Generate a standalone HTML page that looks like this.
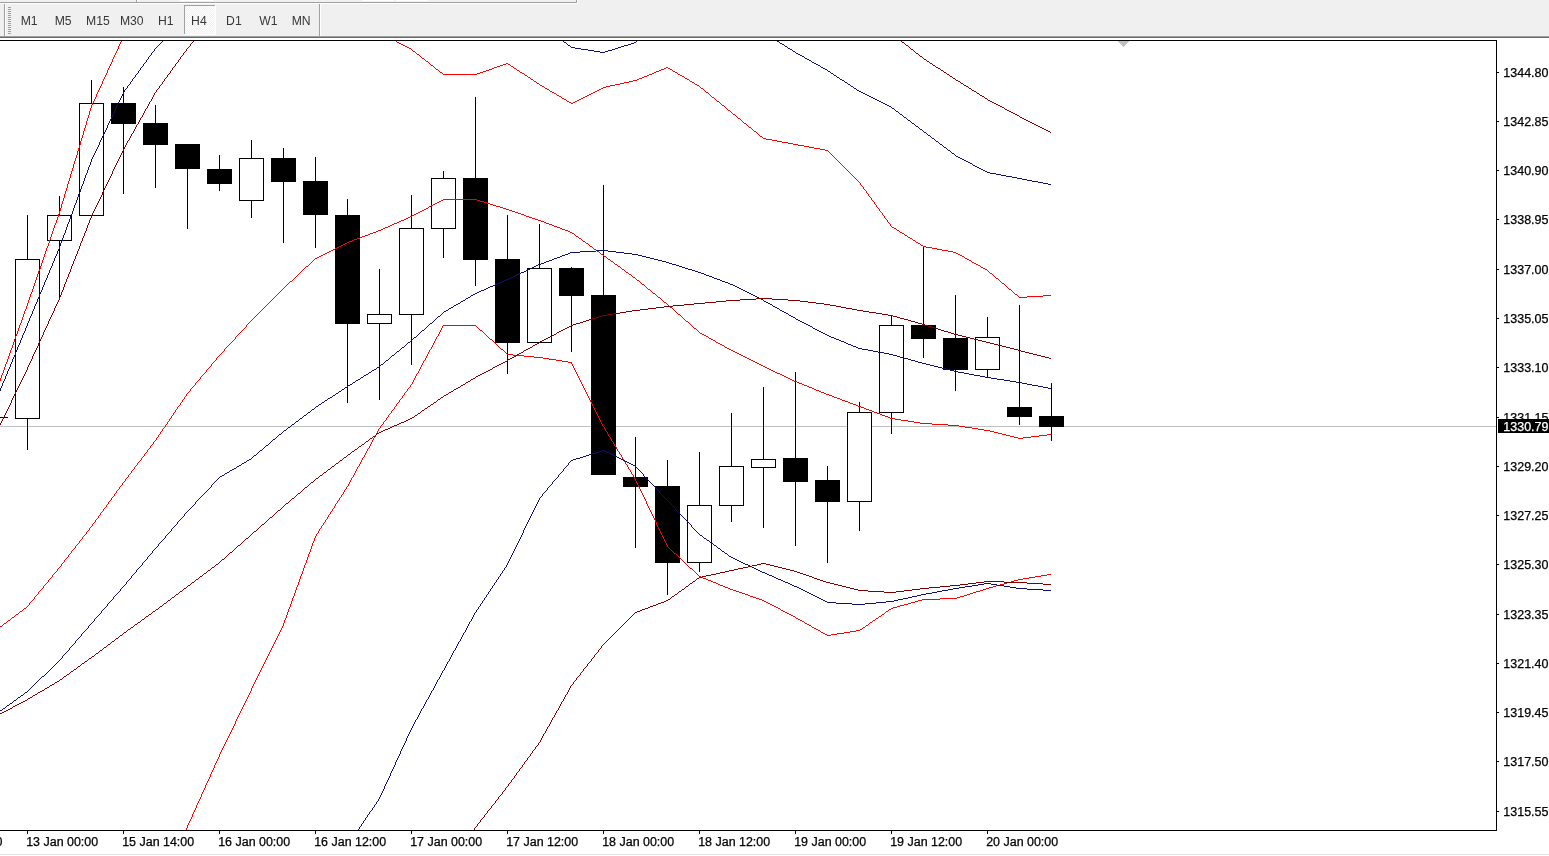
<!DOCTYPE html>
<html><head><meta charset="utf-8"><title>Chart</title>
<style>
html,body{margin:0;padding:0;background:#fff;overflow:hidden}
body{width:1549px;height:856px;position:relative;font-family:"Liberation Sans",sans-serif}
svg{position:absolute;left:0;top:0;display:block}
text{font-family:"Liberation Sans",sans-serif;font-size:12px;stroke-width:0.25px}
.tb{fill:#383838;font-size:12.2px;stroke:none}
</style></head><body>
<svg width="1549" height="856" viewBox="0 0 1549 856">

<rect x="0" y="0" width="1549" height="856" fill="#ffffff"/>
<g shape-rendering="crispEdges">
<rect x="0" y="0" width="1549" height="36" fill="#f0f0f0"/>
<rect x="0" y="2" width="577" height="1" fill="#a0a0a0"/>
<rect x="0" y="3" width="578" height="1" fill="#ffffff"/><rect x="577" y="0" width="1" height="4" fill="#ffffff"/>
<rect x="576" y="0" width="1" height="3" fill="#a0a0a0"/>
<rect x="136" y="0" width="1" height="2" fill="#a0a0a0"/><rect x="137" y="0" width="1" height="2" fill="#ffffff"/>
<rect x="180" y="0" width="33" height="1" fill="#ffffff"/>
<rect x="362" y="0" width="32" height="1" fill="#ffffff"/><rect x="396" y="0" width="32" height="1" fill="#ffffff"/>
<rect x="0" y="36" width="1549" height="1" fill="#a0a0a0"/>
<rect x="0" y="37" width="1549" height="1" fill="#696969"/>
<rect x="0" y="38" width="1549" height="2" fill="#ffffff"/>
<rect x="4" y="4" width="1" height="32" fill="#a0a0a0"/><rect x="5" y="4" width="1" height="32" fill="#ffffff"/>
<rect x="8" y="7" width="3" height="1" fill="#a0a0a0"/>
<rect x="8" y="9" width="3" height="1" fill="#a0a0a0"/>
<rect x="8" y="11" width="3" height="1" fill="#a0a0a0"/>
<rect x="8" y="13" width="3" height="1" fill="#a0a0a0"/>
<rect x="8" y="15" width="3" height="1" fill="#a0a0a0"/>
<rect x="8" y="17" width="3" height="1" fill="#a0a0a0"/>
<rect x="8" y="19" width="3" height="1" fill="#a0a0a0"/>
<rect x="8" y="21" width="3" height="1" fill="#a0a0a0"/>
<rect x="8" y="23" width="3" height="1" fill="#a0a0a0"/>
<rect x="8" y="25" width="3" height="1" fill="#a0a0a0"/>
<rect x="8" y="27" width="3" height="1" fill="#a0a0a0"/>
<rect x="8" y="29" width="3" height="1" fill="#a0a0a0"/>
<rect x="8" y="31" width="3" height="1" fill="#a0a0a0"/>
<rect x="8" y="33" width="3" height="1" fill="#a0a0a0"/>
<rect x="319" y="4" width="1" height="32" fill="#a0a0a0"/><rect x="320" y="4" width="1" height="32" fill="#ffffff"/>
<defs><pattern id="chk" width="2" height="2" patternUnits="userSpaceOnUse"><rect width="2" height="2" fill="#f0f0f0"/><rect width="1" height="1" fill="#fff"/><rect x="1" y="1" width="1" height="1" fill="#fff"/></pattern></defs>
<rect x="185" y="6" width="30" height="28" fill="url(#chk)"/>
<rect x="184" y="5" width="31" height="1" fill="#a0a0a0"/><rect x="184" y="5" width="1" height="29" fill="#a0a0a0"/>
<rect x="215" y="5" width="1" height="30" fill="#ffffff"/><rect x="184" y="34" width="32" height="1" fill="#ffffff"/>
</g>
<text class="tb" x="29.2" y="25.3" text-anchor="middle">M1</text>
<text class="tb" x="63.1" y="25.3" text-anchor="middle">M5</text>
<text class="tb" x="97.9" y="25.3" text-anchor="middle">M15</text>
<text class="tb" x="131.8" y="25.3" text-anchor="middle">M30</text>
<text class="tb" x="165.8" y="25.3" text-anchor="middle">H1</text>
<text class="tb" x="198.9" y="25.3" text-anchor="middle">H4</text>
<text class="tb" x="233.9" y="25.3" text-anchor="middle">D1</text>
<text class="tb" x="268.5" y="25.3" text-anchor="middle">W1</text>
<text class="tb" x="301.2" y="25.3" text-anchor="middle">MN</text>
<g shape-rendering="crispEdges">
<rect x="0" y="426" width="1496" height="1" fill="#c0c0c0"/>
<path fill="#c0c0c0" d="M1118 41h11v1h-11zM1119 42h9v1h-9zM1120 43h7v1h-7zM1121 44h5v1h-5zM1122 45h3v1h-3zM1123 46h1v1h-1z"/>
<clipPath id="cc"><rect x="0" y="41" width="1496" height="789"/></clipPath>
<g clip-path="url(#cc)">
<rect x="0" y="417" width="8" height="1" fill="#000"/>
<rect x="27" y="215" width="1" height="235" fill="#000"/>
<rect x="15.5" y="259.5" width="24" height="159" fill="#fff" stroke="#000" stroke-width="1"/>
<rect x="59" y="196" width="1" height="103" fill="#000"/>
<rect x="47.5" y="215.5" width="24" height="25" fill="#fff" stroke="#000" stroke-width="1"/>
<rect x="91" y="80" width="1" height="136" fill="#000"/>
<rect x="79.5" y="103.5" width="24" height="112" fill="#fff" stroke="#000" stroke-width="1"/>
<rect x="123" y="87" width="1" height="107" fill="#000"/>
<rect x="111" y="103" width="25" height="21" fill="#000"/>
<rect x="155" y="105" width="1" height="83" fill="#000"/>
<rect x="143" y="123" width="25" height="22" fill="#000"/>
<rect x="187" y="144" width="1" height="85" fill="#000"/>
<rect x="175" y="144" width="25" height="25" fill="#000"/>
<rect x="219" y="155" width="1" height="36" fill="#000"/>
<rect x="207" y="169" width="25" height="15" fill="#000"/>
<rect x="251" y="140" width="1" height="78" fill="#000"/>
<rect x="239.5" y="158.5" width="24" height="42" fill="#fff" stroke="#000" stroke-width="1"/>
<rect x="283" y="148" width="1" height="95" fill="#000"/>
<rect x="271" y="158" width="25" height="24" fill="#000"/>
<rect x="315" y="157" width="1" height="91" fill="#000"/>
<rect x="303" y="181" width="25" height="34" fill="#000"/>
<rect x="347" y="199" width="1" height="204" fill="#000"/>
<rect x="335" y="215" width="25" height="109" fill="#000"/>
<rect x="379" y="269" width="1" height="131" fill="#000"/>
<rect x="367.5" y="314.5" width="24" height="9" fill="#fff" stroke="#000" stroke-width="1"/>
<rect x="411" y="195" width="1" height="170" fill="#000"/>
<rect x="399.5" y="228.5" width="24" height="86" fill="#fff" stroke="#000" stroke-width="1"/>
<rect x="443" y="171" width="1" height="87" fill="#000"/>
<rect x="431.5" y="178.5" width="24" height="50" fill="#fff" stroke="#000" stroke-width="1"/>
<rect x="475" y="97" width="1" height="189" fill="#000"/>
<rect x="463" y="178" width="25" height="82" fill="#000"/>
<rect x="507" y="215" width="1" height="159" fill="#000"/>
<rect x="495" y="259" width="25" height="84" fill="#000"/>
<rect x="539" y="224" width="1" height="119" fill="#000"/>
<rect x="527.5" y="268.5" width="24" height="74" fill="#fff" stroke="#000" stroke-width="1"/>
<rect x="571" y="267" width="1" height="85" fill="#000"/>
<rect x="559" y="268" width="25" height="28" fill="#000"/>
<rect x="603" y="185" width="1" height="290" fill="#000"/>
<rect x="591" y="295" width="25" height="180" fill="#000"/>
<rect x="635" y="437" width="1" height="111" fill="#000"/>
<rect x="623" y="477" width="25" height="10" fill="#000"/>
<rect x="667" y="460" width="1" height="135" fill="#000"/>
<rect x="655" y="486" width="25" height="77" fill="#000"/>
<rect x="699" y="452" width="1" height="120" fill="#000"/>
<rect x="687.5" y="505.5" width="24" height="57" fill="#fff" stroke="#000" stroke-width="1"/>
<rect x="731" y="413" width="1" height="109" fill="#000"/>
<rect x="719.5" y="466.5" width="24" height="39" fill="#fff" stroke="#000" stroke-width="1"/>
<rect x="763" y="387" width="1" height="141" fill="#000"/>
<rect x="751.5" y="459.5" width="24" height="8" fill="#fff" stroke="#000" stroke-width="1"/>
<rect x="795" y="372" width="1" height="174" fill="#000"/>
<rect x="783" y="458" width="25" height="24" fill="#000"/>
<rect x="827" y="466" width="1" height="97" fill="#000"/>
<rect x="815" y="480" width="25" height="22" fill="#000"/>
<rect x="859" y="402" width="1" height="129" fill="#000"/>
<rect x="847.5" y="412.5" width="24" height="89" fill="#fff" stroke="#000" stroke-width="1"/>
<rect x="891" y="315" width="1" height="119" fill="#000"/>
<rect x="879.5" y="325.5" width="24" height="87" fill="#fff" stroke="#000" stroke-width="1"/>
<rect x="923" y="246" width="1" height="112" fill="#000"/>
<rect x="911" y="325" width="25" height="14" fill="#000"/>
<rect x="955" y="295" width="1" height="96" fill="#000"/>
<rect x="943" y="338" width="25" height="32" fill="#000"/>
<rect x="987" y="317" width="1" height="60" fill="#000"/>
<rect x="975.5" y="337.5" width="24" height="32" fill="#fff" stroke="#000" stroke-width="1"/>
<rect x="1019" y="305" width="1" height="120" fill="#000"/>
<rect x="1007" y="407" width="25" height="10" fill="#000"/>
<rect x="1051" y="383" width="1" height="58" fill="#000"/>
<rect x="1039" y="416" width="25" height="11" fill="#000"/>
<path fill="#ff0000" d="M0 378v3h1v-3zM1 375v3h1v-3zM2 373v2h1v-2zM3 370v3h1v-3zM4 367v3h1v-3zM5 364v3h1v-3zM6 362v2h1v-2zM7 359v3h1v-3zM8 356v3h1v-3zM9 353v3h1v-3zM10 350v3h1v-3zM11 348v2h1v-2zM12 345v3h1v-3zM13 342v3h1v-3zM14 339v3h1v-3zM15 336v3h1v-3zM16 334v2h1v-2zM17 331v3h1v-3zM18 328v3h1v-3zM19 325v3h1v-3zM20 323v2h1v-2zM21 320v3h1v-3zM22 317v3h1v-3zM23 314v3h1v-3zM24 311v3h1v-3zM25 309v2h1v-2zM26 306v3h1v-3zM27 303v3h1v-3zM28 300v3h1v-3zM29 297v3h1v-3zM30 294v3h1v-3zM31 292v2h1v-2zM32 289v3h1v-3zM33 286v3h1v-3zM34 283v3h1v-3zM35 280v3h1v-3zM36 277v3h1v-3zM37 274v3h1v-3zM38 271v3h1v-3zM39 269v2h1v-2zM40 266v3h1v-3zM41 263v3h1v-3zM42 260v3h1v-3zM43 257v3h1v-3zM44 254v3h1v-3zM45 251v3h1v-3zM46 248v3h1v-3zM47 246v2h1v-2zM48 243v3h1v-3zM49 240v3h1v-3zM50 237v3h1v-3zM51 234v3h1v-3zM52 231v3h1v-3zM53 228v3h1v-3zM54 225v3h1v-3zM55 223v2h1v-2zM56 220v3h1v-3zM57 217v3h1v-3zM58 214v3h1v-3zM59 211v3h1v-3zM60 208v3h1v-3zM61 204v4h1v-4zM62 201v3h1v-3zM63 198v3h1v-3zM64 194v4h1v-4zM65 191v3h1v-3zM66 188v3h1v-3zM67 184v4h1v-4zM68 181v3h1v-3zM69 178v3h1v-3zM70 174v4h1v-4zM71 171v3h1v-3zM72 168v3h1v-3zM73 164v4h1v-4zM74 161v3h1v-3zM75 158v3h1v-3zM76 155v3h1v-3zM77 151v4h1v-4zM78 148v3h1v-3zM79 145v3h1v-3zM80 141v4h1v-4zM81 138v3h1v-3zM82 135v3h1v-3zM83 131v4h1v-4zM84 128v3h1v-3zM85 125v3h1v-3zM86 121v4h1v-4zM87 118v3h1v-3zM88 115v3h1v-3zM89 111v4h1v-4zM90 108v3h1v-3zM91 105v3h1v-3zM92 103v2h1v-2zM93 101v2h1v-2zM94 99v2h1v-2zM95 97v2h1v-2zM96 94v3h1v-3zM97 92v2h1v-2zM98 90v2h1v-2zM99 88v2h1v-2zM100 86v2h1v-2zM101 84v2h1v-2zM102 81v3h1v-3zM103 79v2h1v-2zM104 77v2h1v-2zM105 75v2h1v-2zM106 73v2h1v-2zM107 70v3h1v-3zM108 68v2h1v-2zM109 66v2h1v-2zM110 64v2h1v-2zM111 62v2h1v-2zM112 59v3h1v-3zM113 57v2h1v-2zM114 55v2h1v-2zM115 53v2h1v-2zM116 51v2h1v-2zM117 49v2h1v-2zM118 46v3h1v-3zM119 44v2h1v-2zM120 42v2h1v-2zM121 41h1v1h-1z"/>
<path fill="#ff0000" d="M396 41h1v1h-1zM397 42h2v1h-2zM399 43h2v1h-2zM401 44h2v1h-2zM403 45h2v1h-2zM405 46h2v1h-2zM407 47h2v1h-2zM409 48h2v1h-2zM411 49h1v1h-1zM412 50h1v1h-1zM413 51h2v1h-2zM415 52h1v1h-1zM416 53h1v1h-1zM417 54h2v1h-2zM419 55h1v1h-1zM420 56h1v1h-1zM421 57h1v1h-1zM422 58h2v1h-2zM424 59h1v1h-1zM425 60h1v1h-1zM426 61h2v1h-2zM428 62h1v1h-1zM429 63h1v1h-1zM430 64h1v1h-1zM431 65h2v1h-2zM433 66h1v1h-1zM434 67h1v1h-1zM435 68h1v1h-1zM436 69h2v1h-2zM438 70h1v1h-1zM439 71h1v1h-1zM440 72h2v1h-2zM442 73h1v1h-1zM443 74h34v1h-34zM477 73h3v1h-3zM480 72h3v1h-3zM483 71h3v1h-3zM486 70h3v1h-3zM489 69h3v1h-3zM492 68h2v1h-2zM494 67h3v1h-3zM497 66h3v1h-3zM500 65h3v1h-3zM503 64h3v1h-3zM506 63h2v1h-2zM508 64h2v1h-2zM510 65h1v1h-1zM511 66h2v1h-2zM513 67h1v1h-1zM514 68h2v1h-2zM516 69h1v1h-1zM517 70h2v1h-2zM519 71h1v1h-1zM520 72h2v1h-2zM522 73h2v1h-2zM524 74h1v1h-1zM525 75h2v1h-2zM527 76h1v1h-1zM528 77h2v1h-2zM530 78h1v1h-1zM531 79h2v1h-2zM533 80h1v1h-1zM534 81h2v1h-2zM536 82h1v1h-1zM537 83h2v1h-2zM539 84h1v1h-1zM540 85h2v1h-2zM542 86h2v1h-2zM544 87h1v1h-1zM545 88h2v1h-2zM547 89h2v1h-2zM549 90h1v1h-1zM550 91h2v1h-2zM552 92h2v1h-2zM554 93h2v1h-2zM556 94h1v1h-1zM557 95h2v1h-2zM559 96h2v1h-2zM561 97h1v1h-1zM562 98h2v1h-2zM564 99h2v1h-2zM566 100h1v1h-1zM567 101h2v1h-2zM569 102h2v1h-2zM571 103h2v1h-2zM573 102h2v1h-2zM575 101h2v1h-2zM577 100h2v1h-2zM579 99h2v1h-2zM581 98h2v1h-2zM583 97h2v1h-2zM585 96h2v1h-2zM587 95h2v1h-2zM589 94h2v1h-2zM591 93h2v1h-2zM593 92h2v1h-2zM595 91h2v1h-2zM597 90h2v1h-2zM599 89h2v1h-2zM601 88h2v1h-2zM603 87h3v1h-3zM606 86h4v1h-4zM610 85h5v1h-5zM615 84h5v1h-5zM620 83h4v1h-4zM624 82h5v1h-5zM629 81h4v1h-4zM633 80h4v1h-4zM637 79h2v1h-2zM639 78h3v1h-3zM642 77h2v1h-2zM644 76h3v1h-3zM647 75h2v1h-2zM649 74h3v1h-3zM652 73h2v1h-2zM654 72h2v1h-2zM656 71h3v1h-3zM659 70h2v1h-2zM661 69h3v1h-3zM664 68h2v1h-2zM666 67h2v1h-2zM668 68h2v1h-2zM670 69h2v1h-2zM672 70h1v1h-1zM673 71h2v1h-2zM675 72h2v1h-2zM677 73h1v1h-1zM678 74h2v1h-2zM680 75h2v1h-2zM682 76h2v1h-2zM684 77h1v1h-1zM685 78h2v1h-2zM687 79h2v1h-2zM689 80h1v1h-1zM690 81h2v1h-2zM692 82h2v1h-2zM694 83h1v1h-1zM695 84h2v1h-2zM697 85h2v1h-2zM699 86h1v1h-1zM700 87h1v1h-1zM701 88h2v1h-2zM703 89h1v1h-1zM704 90h1v1h-1zM705 91h1v1h-1zM706 92h2v1h-2zM708 93h1v1h-1zM709 94h1v1h-1zM710 95h1v1h-1zM711 96h1v1h-1zM712 97h2v1h-2zM714 98h1v1h-1zM715 99h1v1h-1zM716 100h1v1h-1zM717 101h2v1h-2zM719 102h1v1h-1zM720 103h1v1h-1zM721 104h1v1h-1zM722 105h2v1h-2zM724 106h1v1h-1zM725 107h1v1h-1zM726 108h1v1h-1zM727 109h1v1h-1zM728 110h2v1h-2zM730 111h1v1h-1zM731 112h1v1h-1zM732 113h1v1h-1zM733 114h2v1h-2zM735 115h1v1h-1zM736 116h1v1h-1zM737 117h1v1h-1zM738 118h2v1h-2zM740 119h1v1h-1zM741 120h1v1h-1zM742 121h1v1h-1zM743 122h1v1h-1zM744 123h2v1h-2zM746 124h1v1h-1zM747 125h1v1h-1zM748 126h1v1h-1zM749 127h2v1h-2zM751 128h1v1h-1zM752 129h1v1h-1zM753 130h1v1h-1zM754 131h2v1h-2zM756 132h1v1h-1zM757 133h1v1h-1zM758 134h1v1h-1zM759 135h1v1h-1zM760 136h2v1h-2zM762 137h1v1h-1zM763 138h3v1h-3zM766 139h6v1h-6zM772 140h5v1h-5zM777 141h5v1h-5zM782 142h6v1h-6zM788 143h5v1h-5zM793 144h5v1h-5zM798 145h6v1h-6zM804 146h5v1h-5zM809 147h5v1h-5zM814 148h6v1h-6zM820 149h5v1h-5zM825 150h3v1h-3zM828 151h1v1h-1zM829 152h1v1h-1zM830 153h1v1h-1zM831 154h1v1h-1zM832 155h1v1h-1zM833 156h1v1h-1zM834 157h1v1h-1zM835 158h1v1h-1zM836 159h1v1h-1zM837 160h1v1h-1zM838 161h1v1h-1zM839 162h1v1h-1zM840 163h1v1h-1zM841 164h1v1h-1zM842 165h1v1h-1zM843 166h1v1h-1zM844 167h1v1h-1zM845 168h1v1h-1zM846 169h1v1h-1zM847 170h1v1h-1zM848 171h1v1h-1zM849 172h1v1h-1zM850 173h1v1h-1zM851 174h1v1h-1zM852 175h1v1h-1zM853 176h1v1h-1zM854 177h1v1h-1zM855 178h1v1h-1zM856 179h1v1h-1zM857 180h1v1h-1zM858 181h1v1h-1zM859 182h1v1h-1zM860 183v2h1v-2zM861 185h1v1h-1zM862 186h1v1h-1zM863 187v2h1v-2zM864 189h1v1h-1zM865 190h1v1h-1zM866 191v2h1v-2zM867 193h1v1h-1zM868 194v2h1v-2zM869 196h1v1h-1zM870 197h1v1h-1zM871 198v2h1v-2zM872 200h1v1h-1zM873 201h1v1h-1zM874 202v2h1v-2zM875 204h1v1h-1zM876 205v2h1v-2zM877 207h1v1h-1zM878 208h1v1h-1zM879 209v2h1v-2zM880 211h1v1h-1zM881 212h1v1h-1zM882 213v2h1v-2zM883 215h1v1h-1zM884 216v2h1v-2zM885 218h1v1h-1zM886 219h1v1h-1zM887 220v2h1v-2zM888 222h1v1h-1zM889 223h1v1h-1zM890 224v2h1v-2zM891 226h1v1h-1zM892 227h2v1h-2zM894 228h2v1h-2zM896 229h1v1h-1zM897 230h2v1h-2zM899 231h1v1h-1zM900 232h2v1h-2zM902 233h2v1h-2zM904 234h1v1h-1zM905 235h2v1h-2zM907 236h1v1h-1zM908 237h2v1h-2zM910 238h2v1h-2zM912 239h1v1h-1zM913 240h2v1h-2zM915 241h1v1h-1zM916 242h2v1h-2zM918 243h2v1h-2zM920 244h1v1h-1zM921 245h2v1h-2zM923 246h3v1h-3zM926 247h6v1h-6zM932 248h5v1h-5zM937 249h5v1h-5zM942 250h6v1h-6zM948 251h5v1h-5zM953 252h3v1h-3zM956 253h2v1h-2zM958 254h2v1h-2zM960 255h2v1h-2zM962 256h2v1h-2zM964 257h1v1h-1zM965 258h2v1h-2zM967 259h2v1h-2zM969 260h2v1h-2zM971 261h1v1h-1zM972 262h2v1h-2zM974 263h2v1h-2zM976 264h2v1h-2zM978 265h2v1h-2zM980 266h1v1h-1zM981 267h2v1h-2zM983 268h2v1h-2zM985 269h2v1h-2zM987 270h1v1h-1zM988 271h1v1h-1zM989 272h1v1h-1zM990 273h2v1h-2zM992 274h1v1h-1zM993 275h1v1h-1zM994 276h1v1h-1zM995 277h1v1h-1zM996 278h2v1h-2zM998 279h1v1h-1zM999 280h1v1h-1zM1000 281h1v1h-1zM1001 282h1v1h-1zM1002 283h2v1h-2zM1004 284h1v1h-1zM1005 285h1v1h-1zM1006 286h1v1h-1zM1007 287h1v1h-1zM1008 288h1v1h-1zM1009 289h2v1h-2zM1011 290h1v1h-1zM1012 291h1v1h-1zM1013 292h1v1h-1zM1014 293h1v1h-1zM1015 294h2v1h-2zM1017 295h1v1h-1zM1018 296h1v1h-1zM1019 297h8v1h-8zM1027 296h16v1h-16zM1043 295h8v1h-8z"/>
<path fill="#ff0000" d="M0 626h2v1h-2zM2 625h1v1h-1zM3 624h1v1h-1zM4 623h2v1h-2zM6 622h1v1h-1zM7 621h1v1h-1zM8 620h2v1h-2zM10 619h1v1h-1zM11 618h1v1h-1zM12 617h2v1h-2zM14 616h1v1h-1zM15 615h1v1h-1zM16 614h2v1h-2zM18 613h1v1h-1zM19 612h1v1h-1zM20 611h2v1h-2zM22 610h1v1h-1zM23 609h1v1h-1zM24 608h2v1h-2zM26 607h1v1h-1zM27 606h1v1h-1zM28 605h1v1h-1zM29 603v2h1v-2zM30 602h1v1h-1zM31 601h1v1h-1zM32 600h1v1h-1zM33 599h1v1h-1zM34 597v2h1v-2zM35 596h1v1h-1zM36 595h1v1h-1zM37 594h1v1h-1zM38 592v2h1v-2zM39 591h1v1h-1zM40 590h1v1h-1zM41 589h1v1h-1zM42 588h1v1h-1zM43 586v2h1v-2zM44 585h1v1h-1zM45 584h1v1h-1zM46 583h1v1h-1zM47 582h1v1h-1zM48 580v2h1v-2zM49 579h1v1h-1zM50 578h1v1h-1zM51 577h1v1h-1zM52 575v2h1v-2zM53 574h1v1h-1zM54 573h1v1h-1zM55 572h1v1h-1zM56 571h1v1h-1zM57 569v2h1v-2zM58 568h1v1h-1zM59 567h1v1h-1zM60 566h1v1h-1zM61 564v2h1v-2zM62 563h1v1h-1zM63 562h1v1h-1zM64 560v2h1v-2zM65 559h1v1h-1zM66 558h1v1h-1zM67 557h1v1h-1zM68 555v2h1v-2zM69 554h1v1h-1zM70 553h1v1h-1zM71 551v2h1v-2zM72 550h1v1h-1zM73 549h1v1h-1zM74 548h1v1h-1zM75 546v2h1v-2zM76 545h1v1h-1zM77 544h1v1h-1zM78 543h1v1h-1zM79 541v2h1v-2zM80 540h1v1h-1zM81 539h1v1h-1zM82 537v2h1v-2zM83 536h1v1h-1zM84 535h1v1h-1zM85 534h1v1h-1zM86 532v2h1v-2zM87 531h1v1h-1zM88 530h1v1h-1zM89 528v2h1v-2zM90 527h1v1h-1zM91 526h1v1h-1zM92 524v2h1v-2zM93 523h1v1h-1zM94 522h1v1h-1zM95 520v2h1v-2zM96 519h1v1h-1zM97 518h1v1h-1zM98 516v2h1v-2zM99 515h1v1h-1zM100 513v2h1v-2zM101 512h1v1h-1zM102 511h1v1h-1zM103 509v2h1v-2zM104 508h1v1h-1zM105 507h1v1h-1zM106 505v2h1v-2zM107 504h1v1h-1zM108 502v2h1v-2zM109 501h1v1h-1zM110 500h1v1h-1zM111 498v2h1v-2zM112 497h1v1h-1zM113 496h1v1h-1zM114 494v2h1v-2zM115 493h1v1h-1zM116 491v2h1v-2zM117 490h1v1h-1zM118 489h1v1h-1zM119 487v2h1v-2zM120 486h1v1h-1zM121 485h1v1h-1zM122 483v2h1v-2zM123 482h1v1h-1zM124 481h1v1h-1zM125 479v2h1v-2zM126 478h1v1h-1zM127 477h1v1h-1zM128 475v2h1v-2zM129 474h1v1h-1zM130 473h1v1h-1zM131 471v2h1v-2zM132 470h1v1h-1zM133 469h1v1h-1zM134 467v2h1v-2zM135 466h1v1h-1zM136 465h1v1h-1zM137 463v2h1v-2zM138 462h1v1h-1zM139 461h1v1h-1zM140 460h1v1h-1zM141 458v2h1v-2zM142 457h1v1h-1zM143 456h1v1h-1zM144 454v2h1v-2zM145 453h1v1h-1zM146 452h1v1h-1zM147 450v2h1v-2zM148 449h1v1h-1zM149 448h1v1h-1zM150 446v2h1v-2zM151 445h1v1h-1zM152 444h1v1h-1zM153 442v2h1v-2zM154 441h1v1h-1zM155 440h1v1h-1zM156 438v2h1v-2zM157 437h1v1h-1zM158 435v2h1v-2zM159 434h1v1h-1zM160 432v2h1v-2zM161 431h1v1h-1zM162 429v2h1v-2zM163 428h1v1h-1zM164 427h1v1h-1zM165 425v2h1v-2zM166 424h1v1h-1zM167 422v2h1v-2zM168 421h1v1h-1zM169 419v2h1v-2zM170 418h1v1h-1zM171 416v2h1v-2zM172 415h1v1h-1zM173 413v2h1v-2zM174 412h1v1h-1zM175 410v2h1v-2zM176 409h1v1h-1zM177 407v2h1v-2zM178 406h1v1h-1zM179 405h1v1h-1zM180 403v2h1v-2zM181 402h1v1h-1zM182 400v2h1v-2zM183 399h1v1h-1zM184 397v2h1v-2zM185 396h1v1h-1zM186 394v2h1v-2zM187 393h1v1h-1zM188 392h1v1h-1zM189 391h1v1h-1zM190 389v2h1v-2zM191 388h1v1h-1zM192 387h1v1h-1zM193 386h1v1h-1zM194 385h1v1h-1zM195 383v2h1v-2zM196 382h1v1h-1zM197 381h1v1h-1zM198 380h1v1h-1zM199 379h1v1h-1zM200 377v2h1v-2zM201 376h1v1h-1zM202 375h1v1h-1zM203 374h1v1h-1zM204 373h1v1h-1zM205 372h1v1h-1zM206 370v2h1v-2zM207 369h1v1h-1zM208 368h1v1h-1zM209 367h1v1h-1zM210 366h1v1h-1zM211 364v2h1v-2zM212 363h1v1h-1zM213 362h1v1h-1zM214 361h1v1h-1zM215 360h1v1h-1zM216 358v2h1v-2zM217 357h1v1h-1zM218 356h1v1h-1zM219 355h1v1h-1zM220 354h1v1h-1zM221 353h1v1h-1zM222 352h1v1h-1zM223 351h1v1h-1zM224 349v2h1v-2zM225 348h1v1h-1zM226 347h1v1h-1zM227 346h1v1h-1zM228 345h1v1h-1zM229 344h1v1h-1zM230 343h1v1h-1zM231 342h1v1h-1zM232 341h1v1h-1zM233 340h1v1h-1zM234 339h1v1h-1zM235 337v2h1v-2zM236 336h1v1h-1zM237 335h1v1h-1zM238 334h1v1h-1zM239 333h1v1h-1zM240 332h1v1h-1zM241 331h1v1h-1zM242 330h1v1h-1zM243 329h1v1h-1zM244 328h1v1h-1zM245 327h1v1h-1zM246 325v2h1v-2zM247 324h1v1h-1zM248 323h1v1h-1zM249 322h1v1h-1zM250 321h1v1h-1zM251 320h1v1h-1zM252 319h1v1h-1zM253 318h1v1h-1zM254 317h1v1h-1zM255 316h1v1h-1zM256 315h1v1h-1zM257 314h1v1h-1zM258 313h1v1h-1zM259 312h1v1h-1zM260 311h1v1h-1zM261 310h1v1h-1zM262 309h1v1h-1zM263 308h1v1h-1zM264 307h1v1h-1zM265 306h1v1h-1zM266 305h1v1h-1zM267 304h1v1h-1zM268 303h1v1h-1zM269 302h1v1h-1zM270 301h1v1h-1zM271 300h1v1h-1zM272 299h1v1h-1zM273 298h1v1h-1zM274 297h1v1h-1zM275 296h1v1h-1zM276 295h1v1h-1zM277 294h1v1h-1zM278 293h1v1h-1zM279 292h1v1h-1zM280 291h1v1h-1zM281 290h1v1h-1zM282 289h1v1h-1zM283 288h1v1h-1zM284 287h1v1h-1zM285 286h1v1h-1zM286 285h1v1h-1zM287 284h1v1h-1zM288 283h1v1h-1zM289 282h1v1h-1zM290 281h2v1h-2zM292 280h1v1h-1zM293 279h1v1h-1zM294 278h1v1h-1zM295 277h1v1h-1zM296 276h1v1h-1zM297 275h1v1h-1zM298 274h1v1h-1zM299 273h1v1h-1zM300 272h1v1h-1zM301 271h1v1h-1zM302 270h1v1h-1zM303 269h1v1h-1zM304 268h1v1h-1zM305 267h1v1h-1zM306 266h2v1h-2zM308 265h1v1h-1zM309 264h1v1h-1zM310 263h1v1h-1zM311 262h1v1h-1zM312 261h1v1h-1zM313 260h1v1h-1zM314 259h1v1h-1zM315 258h2v1h-2zM317 257h2v1h-2zM319 256h2v1h-2zM321 255h2v1h-2zM323 254h2v1h-2zM325 253h2v1h-2zM327 252h2v1h-2zM329 251h2v1h-2zM331 250h2v1h-2zM333 249h2v1h-2zM335 248h2v1h-2zM337 247h2v1h-2zM339 246h2v1h-2zM341 245h2v1h-2zM343 244h2v1h-2zM345 243h2v1h-2zM347 242h2v1h-2zM349 241h3v1h-3zM352 240h2v1h-2zM354 239h3v1h-3zM357 238h3v1h-3zM360 237h2v1h-2zM362 236h3v1h-3zM365 235h3v1h-3zM368 234h2v1h-2zM370 233h3v1h-3zM373 232h3v1h-3zM376 231h2v1h-2zM378 230h3v1h-3zM381 229h2v1h-2zM383 228h2v1h-2zM385 227h3v1h-3zM388 226h2v1h-2zM390 225h2v1h-2zM392 224h2v1h-2zM394 223h3v1h-3zM397 222h2v1h-2zM399 221h2v1h-2zM401 220h3v1h-3zM404 219h2v1h-2zM406 218h2v1h-2zM408 217h2v1h-2zM410 216h2v1h-2zM412 215h2v1h-2zM414 214h2v1h-2zM416 213h2v1h-2zM418 212h2v1h-2zM420 211h2v1h-2zM422 210h2v1h-2zM424 209h2v1h-2zM426 208h2v1h-2zM428 207h1v1h-1zM429 206h2v1h-2zM431 205h2v1h-2zM433 204h2v1h-2zM435 203h2v1h-2zM437 202h2v1h-2zM439 201h2v1h-2zM441 200h2v1h-2zM443 199h34v1h-34zM477 200h3v1h-3zM480 201h4v1h-4zM484 202h3v1h-3zM487 203h3v1h-3zM490 204h3v1h-3zM493 205h3v1h-3zM496 206h4v1h-4zM500 207h3v1h-3zM503 208h3v1h-3zM506 209h3v1h-3zM509 210h3v1h-3zM512 211h3v1h-3zM515 212h3v1h-3zM518 213h3v1h-3zM521 214h3v1h-3zM524 215h2v1h-2zM526 216h3v1h-3zM529 217h3v1h-3zM532 218h3v1h-3zM535 219h3v1h-3zM538 220h3v1h-3zM541 221h3v1h-3zM544 222h2v1h-2zM546 223h3v1h-3zM549 224h3v1h-3zM552 225h2v1h-2zM554 226h3v1h-3zM557 227h3v1h-3zM560 228h2v1h-2zM562 229h3v1h-3zM565 230h3v1h-3zM568 231h2v1h-2zM570 232h2v1h-2zM572 233h2v1h-2zM574 234h1v1h-1zM575 235h1v1h-1zM576 236h2v1h-2zM578 237h1v1h-1zM579 238h2v1h-2zM581 239h1v1h-1zM582 240h1v1h-1zM583 241h2v1h-2zM585 242h1v1h-1zM586 243h2v1h-2zM588 244h1v1h-1zM589 245h1v1h-1zM590 246h2v1h-2zM592 247h1v1h-1zM593 248h1v1h-1zM594 249h2v1h-2zM596 250h1v1h-1zM597 251h2v1h-2zM599 252h1v1h-1zM600 253h1v1h-1zM601 254h2v1h-2zM603 255h1v1h-1zM604 256h2v1h-2zM606 257h1v1h-1zM607 258h1v1h-1zM608 259h2v1h-2zM610 260h1v1h-1zM611 261h2v1h-2zM613 262h1v1h-1zM614 263h1v1h-1zM615 264h2v1h-2zM617 265h1v1h-1zM618 266h2v1h-2zM620 267h1v1h-1zM621 268h1v1h-1zM622 269h2v1h-2zM624 270h1v1h-1zM625 271h1v1h-1zM626 272h2v1h-2zM628 273h1v1h-1zM629 274h2v1h-2zM631 275h1v1h-1zM632 276h1v1h-1zM633 277h2v1h-2zM635 278h1v1h-1zM636 279h1v1h-1zM637 280h2v1h-2zM639 281h1v1h-1zM640 282h1v1h-1zM641 283h1v1h-1zM642 284h2v1h-2zM644 285h1v1h-1zM645 286h1v1h-1zM646 287h1v1h-1zM647 288h1v1h-1zM648 289h2v1h-2zM650 290h1v1h-1zM651 291h1v1h-1zM652 292h1v1h-1zM653 293h2v1h-2zM655 294h1v1h-1zM656 295h1v1h-1zM657 296h1v1h-1zM658 297h2v1h-2zM660 298h1v1h-1zM661 299h1v1h-1zM662 300h1v1h-1zM663 301h1v1h-1zM664 302h2v1h-2zM666 303h1v1h-1zM667 304h1v1h-1zM668 305h1v1h-1zM669 306h1v1h-1zM670 307h2v1h-2zM672 308h1v1h-1zM673 309h1v1h-1zM674 310h1v1h-1zM675 311h1v1h-1zM676 312h1v1h-1zM677 313h1v1h-1zM678 314h2v1h-2zM680 315h1v1h-1zM681 316h1v1h-1zM682 317h1v1h-1zM683 318h1v1h-1zM684 319h1v1h-1zM685 320h1v1h-1zM686 321h2v1h-2zM688 322h1v1h-1zM689 323h1v1h-1zM690 324h1v1h-1zM691 325h1v1h-1zM692 326h1v1h-1zM693 327h1v1h-1zM694 328h2v1h-2zM696 329h1v1h-1zM697 330h1v1h-1zM698 331h1v1h-1zM699 332h1v1h-1zM700 333h2v1h-2zM702 334h2v1h-2zM704 335h2v1h-2zM706 336h2v1h-2zM708 337h1v1h-1zM709 338h2v1h-2zM711 339h2v1h-2zM713 340h2v1h-2zM715 341h1v1h-1zM716 342h2v1h-2zM718 343h2v1h-2zM720 344h2v1h-2zM722 345h2v1h-2zM724 346h1v1h-1zM725 347h2v1h-2zM727 348h2v1h-2zM729 349h2v1h-2zM731 350h2v1h-2zM733 351h2v1h-2zM735 352h2v1h-2zM737 353h2v1h-2zM739 354h2v1h-2zM741 355h2v1h-2zM743 356h2v1h-2zM745 357h2v1h-2zM747 358h2v1h-2zM749 359h2v1h-2zM751 360h2v1h-2zM753 361h2v1h-2zM755 362h2v1h-2zM757 363h2v1h-2zM759 364h2v1h-2zM761 365h2v1h-2zM763 366h2v1h-2zM765 367h2v1h-2zM767 368h2v1h-2zM769 369h2v1h-2zM771 370h2v1h-2zM773 371h2v1h-2zM775 372h2v1h-2zM777 373h3v1h-3zM780 374h2v1h-2zM782 375h2v1h-2zM784 376h2v1h-2zM786 377h2v1h-2zM788 378h2v1h-2zM790 379h2v1h-2zM792 380h2v1h-2zM794 381h3v1h-3zM797 382h2v1h-2zM799 383h3v1h-3zM802 384h2v1h-2zM804 385h3v1h-3zM807 386h2v1h-2zM809 387h3v1h-3zM812 388h2v1h-2zM814 389h2v1h-2zM816 390h3v1h-3zM819 391h2v1h-2zM821 392h3v1h-3zM824 393h2v1h-2zM826 394h3v1h-3zM829 395h3v1h-3zM832 396h2v1h-2zM834 397h3v1h-3zM837 398h3v1h-3zM840 399h2v1h-2zM842 400h3v1h-3zM845 401h3v1h-3zM848 402h2v1h-2zM850 403h3v1h-3zM853 404h3v1h-3zM856 405h2v1h-2zM858 406h3v1h-3zM861 407h3v1h-3zM864 408h2v1h-2zM866 409h3v1h-3zM869 410h3v1h-3zM872 411h2v1h-2zM874 412h3v1h-3zM877 413h3v1h-3zM880 414h2v1h-2zM882 415h3v1h-3zM885 416h3v1h-3zM888 417h2v1h-2zM890 418h5v1h-5zM895 419h6v1h-6zM901 420h7v1h-7zM908 421h6v1h-6zM914 422h6v1h-6zM920 423h12v1h-12zM932 424h16v1h-16zM948 425h11v1h-11zM959 426h6v1h-6zM965 427h7v1h-7zM972 428h6v1h-6zM978 429h6v1h-6zM984 430h6v1h-6zM990 431h4v1h-4zM994 432h4v1h-4zM998 433h4v1h-4zM1002 434h4v1h-4zM1006 435h4v1h-4zM1010 436h4v1h-4zM1014 437h4v1h-4zM1018 438h5v1h-5zM1023 437h8v1h-8zM1031 436h8v1h-8zM1039 435h8v1h-8zM1047 434h4v1h-4z"/>
<path fill="#ff0000" d="M186 828v2h1v-2zM187 825v3h1v-3zM188 823v2h1v-2zM189 821v2h1v-2zM190 819v2h1v-2zM191 817v2h1v-2zM192 814v3h1v-3zM193 812v2h1v-2zM194 810v2h1v-2zM195 808v2h1v-2zM196 805v3h1v-3zM197 803v2h1v-2zM198 801v2h1v-2zM199 799v2h1v-2zM200 797v2h1v-2zM201 794v3h1v-3zM202 792v2h1v-2zM203 790v2h1v-2zM204 788v2h1v-2zM205 785v3h1v-3zM206 783v2h1v-2zM207 781v2h1v-2zM208 779v2h1v-2zM209 777v2h1v-2zM210 774v3h1v-3zM211 772v2h1v-2zM212 770v2h1v-2zM213 768v2h1v-2zM214 765v3h1v-3zM215 763v2h1v-2zM216 761v2h1v-2zM217 759v2h1v-2zM218 757v2h1v-2zM219 754v3h1v-3zM220 752v2h1v-2zM221 750v2h1v-2zM222 748v2h1v-2zM223 746v2h1v-2zM224 744v2h1v-2zM225 742v2h1v-2zM226 740v2h1v-2zM227 738v2h1v-2zM228 736v2h1v-2zM229 734v2h1v-2zM230 732v2h1v-2zM231 730v2h1v-2zM232 728v2h1v-2zM233 726v2h1v-2zM234 724v2h1v-2zM235 721v3h1v-3zM236 719v2h1v-2zM237 717v2h1v-2zM238 715v2h1v-2zM239 713v2h1v-2zM240 711v2h1v-2zM241 709v2h1v-2zM242 707v2h1v-2zM243 705v2h1v-2zM244 703v2h1v-2zM245 701v2h1v-2zM246 699v2h1v-2zM247 697v2h1v-2zM248 695v2h1v-2zM249 693v2h1v-2zM250 691v2h1v-2zM251 688v3h1v-3zM252 686v2h1v-2zM253 684v2h1v-2zM254 682v2h1v-2zM255 680v2h1v-2zM256 678v2h1v-2zM257 676v2h1v-2zM258 674v2h1v-2zM259 672v2h1v-2zM260 670v2h1v-2zM261 668v2h1v-2zM262 666v2h1v-2zM263 664v2h1v-2zM264 662v2h1v-2zM265 660v2h1v-2zM266 658v2h1v-2zM267 656v2h1v-2zM268 654v2h1v-2zM269 652v2h1v-2zM270 650v2h1v-2zM271 648v2h1v-2zM272 646v2h1v-2zM273 644v2h1v-2zM274 642v2h1v-2zM275 640v2h1v-2zM276 638v2h1v-2zM277 636v2h1v-2zM278 634v2h1v-2zM279 632v2h1v-2zM280 630v2h1v-2zM281 628v2h1v-2zM282 626v2h1v-2zM283 623v3h1v-3zM284 620v3h1v-3zM285 618v2h1v-2zM286 615v3h1v-3zM287 612v3h1v-3zM288 609v3h1v-3zM289 607v2h1v-2zM290 604v3h1v-3zM291 601v3h1v-3zM292 598v3h1v-3zM293 596v2h1v-2zM294 593v3h1v-3zM295 590v3h1v-3zM296 587v3h1v-3zM297 585v2h1v-2zM298 582v3h1v-3zM299 579v3h1v-3zM300 576v3h1v-3zM301 574v2h1v-2zM302 571v3h1v-3zM303 568v3h1v-3zM304 565v3h1v-3zM305 563v2h1v-2zM306 560v3h1v-3zM307 557v3h1v-3zM308 554v3h1v-3zM309 552v2h1v-2zM310 549v3h1v-3zM311 546v3h1v-3zM312 543v3h1v-3zM313 541v2h1v-2zM314 538v3h1v-3zM315 536v2h1v-2zM316 534v2h1v-2zM317 533h1v1h-1zM318 531v2h1v-2zM319 529v2h1v-2zM320 528h1v1h-1zM321 526v2h1v-2zM322 525h1v1h-1zM323 523v2h1v-2zM324 522h1v1h-1zM325 520v2h1v-2zM326 519h1v1h-1zM327 517v2h1v-2zM328 515v2h1v-2zM329 514h1v1h-1zM330 512v2h1v-2zM331 511h1v1h-1zM332 509v2h1v-2zM333 508h1v1h-1zM334 506v2h1v-2zM335 504v2h1v-2zM336 503h1v1h-1zM337 501v2h1v-2zM338 500h1v1h-1zM339 498v2h1v-2zM340 497h1v1h-1zM341 495v2h1v-2zM342 494h1v1h-1zM343 492v2h1v-2zM344 490v2h1v-2zM345 489h1v1h-1zM346 487v2h1v-2zM347 486h1v1h-1zM348 484v2h1v-2zM349 482v2h1v-2zM350 480v2h1v-2zM351 478v2h1v-2zM352 477h1v1h-1zM353 475v2h1v-2zM354 473v2h1v-2zM355 471v2h1v-2zM356 469v2h1v-2zM357 467v2h1v-2zM358 466h1v1h-1zM359 464v2h1v-2zM360 462v2h1v-2zM361 460v2h1v-2zM362 458v2h1v-2zM363 457h1v1h-1zM364 455v2h1v-2zM365 453v2h1v-2zM366 451v2h1v-2zM367 449v2h1v-2zM368 448h1v1h-1zM369 446v2h1v-2zM370 444v2h1v-2zM371 442v2h1v-2zM372 440v2h1v-2zM373 438v2h1v-2zM374 437h1v1h-1zM375 435v2h1v-2zM376 433v2h1v-2zM377 431v2h1v-2zM378 429v2h1v-2zM379 428h1v1h-1zM380 426v2h1v-2zM381 425h1v1h-1zM382 424h1v1h-1zM383 422v2h1v-2zM384 421h1v1h-1zM385 420h1v1h-1zM386 418v2h1v-2zM387 417h1v1h-1zM388 415v2h1v-2zM389 414h1v1h-1zM390 413h1v1h-1zM391 411v2h1v-2zM392 410h1v1h-1zM393 409h1v1h-1zM394 407v2h1v-2zM395 406h1v1h-1zM396 404v2h1v-2zM397 403h1v1h-1zM398 402h1v1h-1zM399 400v2h1v-2zM400 399h1v1h-1zM401 398h1v1h-1zM402 396v2h1v-2zM403 395h1v1h-1zM404 393v2h1v-2zM405 392h1v1h-1zM406 391h1v1h-1zM407 389v2h1v-2zM408 388h1v1h-1zM409 387h1v1h-1zM410 385v2h1v-2zM411 384h1v1h-1zM412 382v2h1v-2zM413 380v2h1v-2zM414 378v2h1v-2zM415 376v2h1v-2zM416 374v2h1v-2zM417 373h1v1h-1zM418 371v2h1v-2zM419 369v2h1v-2zM420 367v2h1v-2zM421 365v2h1v-2zM422 363v2h1v-2zM423 361v2h1v-2zM424 360h1v1h-1zM425 358v2h1v-2zM426 356v2h1v-2zM427 354v2h1v-2zM428 352v2h1v-2zM429 350v2h1v-2zM430 349h1v1h-1zM431 347v2h1v-2zM432 345v2h1v-2zM433 343v2h1v-2zM434 341v2h1v-2zM435 339v2h1v-2zM436 337v2h1v-2zM437 336h1v1h-1zM438 334v2h1v-2zM439 332v2h1v-2zM440 330v2h1v-2zM441 328v2h1v-2zM442 326v2h1v-2zM443 325h33v1h-33zM476 326h1v1h-1zM477 327h1v1h-1zM478 328h1v1h-1zM479 329h1v1h-1zM480 330h2v1h-2zM482 331h1v1h-1zM483 332h1v1h-1zM484 333h1v1h-1zM485 334h1v1h-1zM486 335h1v1h-1zM487 336h1v1h-1zM488 337h1v1h-1zM489 338h1v1h-1zM490 339h2v1h-2zM492 340h1v1h-1zM493 341h1v1h-1zM494 342h1v1h-1zM495 343h1v1h-1zM496 344h1v1h-1zM497 345h1v1h-1zM498 346h1v1h-1zM499 347h1v1h-1zM500 348h1v1h-1zM501 349h2v1h-2zM503 350h1v1h-1zM504 351h1v1h-1zM505 352h1v1h-1zM506 353h1v1h-1zM507 354h6v1h-6zM513 355h11v1h-11zM524 356h10v1h-10zM534 357h9v1h-9zM543 358h6v1h-6zM549 359h7v1h-7zM556 360h6v1h-6zM562 361h6v1h-6zM568 362h4v1h-4zM571 363h1v1h-1zM572 364v2h1v-2zM573 366v2h1v-2zM574 368v2h1v-2zM575 370v2h1v-2zM576 372v2h1v-2zM577 374v2h1v-2zM578 376v2h1v-2zM579 378v2h1v-2zM580 380v2h1v-2zM581 382v2h1v-2zM582 384v2h1v-2zM583 386v2h1v-2zM584 388v2h1v-2zM585 390v2h1v-2zM586 392v2h1v-2zM587 394v2h1v-2zM588 396v2h1v-2zM589 398v2h1v-2zM590 400v2h1v-2zM591 402v2h1v-2zM592 404v2h1v-2zM593 406v2h1v-2zM594 408v2h1v-2zM595 410v2h1v-2zM596 412v2h1v-2zM597 414v2h1v-2zM598 416v2h1v-2zM599 418v2h1v-2zM600 420v2h1v-2zM601 422v2h1v-2zM602 424v2h1v-2zM603 426h1v1h-1zM604 427v2h1v-2zM605 429v2h1v-2zM606 431h1v1h-1zM607 432v2h1v-2zM608 434v2h1v-2zM609 436h1v1h-1zM610 437v2h1v-2zM611 439v2h1v-2zM612 441h1v1h-1zM613 442v2h1v-2zM614 444v2h1v-2zM615 446h1v1h-1zM616 447v2h1v-2zM617 449v2h1v-2zM618 451h1v1h-1zM619 452v2h1v-2zM620 454h1v1h-1zM621 455v2h1v-2zM622 457v2h1v-2zM623 459h1v1h-1zM624 460v2h1v-2zM625 462v2h1v-2zM626 464h1v1h-1zM627 465v2h1v-2zM628 467v2h1v-2zM629 469h1v1h-1zM630 470v2h1v-2zM631 472v2h1v-2zM632 474h1v1h-1zM633 475v2h1v-2zM634 477v2h1v-2zM635 479v2h1v-2zM636 481v2h1v-2zM637 483v2h1v-2zM638 485v2h1v-2zM639 487v2h1v-2zM640 489v2h1v-2zM641 491v2h1v-2zM642 493v2h1v-2zM643 495v2h1v-2zM644 497v2h1v-2zM645 499v2h1v-2zM646 501v3h1v-3zM647 504v2h1v-2zM648 506v2h1v-2zM649 508v2h1v-2zM650 510v2h1v-2zM651 512v2h1v-2zM652 514v2h1v-2zM653 516v2h1v-2zM654 518v2h1v-2zM655 520v2h1v-2zM656 522v3h1v-3zM657 525v2h1v-2zM658 527v2h1v-2zM659 529v2h1v-2zM660 531v2h1v-2zM661 533v2h1v-2zM662 535v2h1v-2zM663 537v2h1v-2zM664 539v2h1v-2zM665 541v2h1v-2zM666 543v2h1v-2zM667 545v2h1v-2zM668 547h1v1h-1zM669 548h1v1h-1zM670 549h1v1h-1zM671 550h1v1h-1zM672 551h1v1h-1zM673 552h1v1h-1zM674 553h2v1h-2zM676 554h1v1h-1zM677 555h1v1h-1zM678 556h1v1h-1zM679 557h1v1h-1zM680 558h1v1h-1zM681 559h1v1h-1zM682 560h1v1h-1zM683 561h1v1h-1zM684 562h1v1h-1zM685 563h1v1h-1zM686 564h1v1h-1zM687 565h1v1h-1zM688 566h1v1h-1zM689 567h1v1h-1zM690 568h2v1h-2zM692 569h1v1h-1zM693 570h1v1h-1zM694 571h1v1h-1zM695 572h1v1h-1zM696 573h1v1h-1zM697 574h1v1h-1zM698 575h1v1h-1zM699 576h2v1h-2zM701 577h2v1h-2zM703 578h3v1h-3zM706 579h2v1h-2zM708 580h3v1h-3zM711 581h2v1h-2zM713 582h3v1h-3zM716 583h2v1h-2zM718 584h2v1h-2zM720 585h3v1h-3zM723 586h2v1h-2zM725 587h3v1h-3zM728 588h2v1h-2zM730 589h3v1h-3zM733 590h3v1h-3zM736 591h3v1h-3zM739 592h3v1h-3zM742 593h3v1h-3zM745 594h3v1h-3zM748 595h2v1h-2zM750 596h3v1h-3zM753 597h3v1h-3zM756 598h3v1h-3zM759 599h3v1h-3zM762 600h2v1h-2zM764 601h2v1h-2zM766 602h2v1h-2zM768 603h2v1h-2zM770 604h2v1h-2zM772 605h2v1h-2zM774 606h2v1h-2zM776 607h2v1h-2zM778 608h2v1h-2zM780 609h1v1h-1zM781 610h2v1h-2zM783 611h2v1h-2zM785 612h2v1h-2zM787 613h2v1h-2zM789 614h2v1h-2zM791 615h2v1h-2zM793 616h2v1h-2zM795 617h1v1h-1zM796 618h2v1h-2zM798 619h2v1h-2zM800 620h2v1h-2zM802 621h2v1h-2zM804 622h1v1h-1zM805 623h2v1h-2zM807 624h2v1h-2zM809 625h2v1h-2zM811 626h1v1h-1zM812 627h2v1h-2zM814 628h2v1h-2zM816 629h2v1h-2zM818 630h2v1h-2zM820 631h1v1h-1zM821 632h2v1h-2zM823 633h2v1h-2zM825 634h2v1h-2zM827 635h4v1h-4zM831 634h6v1h-6zM837 633h7v1h-7zM844 632h6v1h-6zM850 631h6v1h-6zM856 630h4v1h-4zM860 629h2v1h-2zM862 628h1v1h-1zM863 627h2v1h-2zM865 626h1v1h-1zM866 625h2v1h-2zM868 624h1v1h-1zM869 623h1v1h-1zM870 622h2v1h-2zM872 621h1v1h-1zM873 620h2v1h-2zM875 619h1v1h-1zM876 618h2v1h-2zM878 617h1v1h-1zM879 616h2v1h-2zM881 615h1v1h-1zM882 614h2v1h-2zM884 613h1v1h-1zM885 612h1v1h-1zM886 611h2v1h-2zM888 610h1v1h-1zM889 609h2v1h-2zM891 608h2v1h-2zM893 607h4v1h-4zM897 606h3v1h-3zM900 605h4v1h-4zM904 604h4v1h-4zM908 603h3v1h-3zM911 602h4v1h-4zM915 601h3v1h-3zM918 600h4v1h-4zM922 599h18v1h-18zM940 598h17v1h-17zM957 597h3v1h-3zM960 596h4v1h-4zM964 595h3v1h-3zM967 594h3v1h-3zM970 593h3v1h-3zM973 592h3v1h-3zM976 591h4v1h-4zM980 590h3v1h-3zM983 589h3v1h-3zM986 588h3v1h-3zM989 587h4v1h-4zM993 586h3v1h-3zM996 585h4v1h-4zM1000 584h4v1h-4zM1004 583h3v1h-3zM1007 582h4v1h-4zM1011 581h3v1h-3zM1014 580h4v1h-4zM1018 579h5v1h-5zM1023 578h6v1h-6zM1029 577h6v1h-6zM1035 576h6v1h-6zM1041 575h6v1h-6zM1047 574h4v1h-4z"/>
<path fill="#10106c" d="M0 388v3h1v-3zM1 386v2h1v-2zM2 383v3h1v-3zM3 381v2h1v-2zM4 379v2h1v-2zM5 376v3h1v-3zM6 374v2h1v-2zM7 371v3h1v-3zM8 369v2h1v-2zM9 367v2h1v-2zM10 364v3h1v-3zM11 362v2h1v-2zM12 359v3h1v-3zM13 357v2h1v-2zM14 355v2h1v-2zM15 352v3h1v-3zM16 350v2h1v-2zM17 347v3h1v-3zM18 345v2h1v-2zM19 343v2h1v-2zM20 340v3h1v-3zM21 338v2h1v-2zM22 335v3h1v-3zM23 333v2h1v-2zM24 331v2h1v-2zM25 328v3h1v-3zM26 326v2h1v-2zM27 323v3h1v-3zM28 321v2h1v-2zM29 318v3h1v-3zM30 316v2h1v-2zM31 314v2h1v-2zM32 311v3h1v-3zM33 309v2h1v-2zM34 306v3h1v-3zM35 304v2h1v-2zM36 302v2h1v-2zM37 299v3h1v-3zM38 297v2h1v-2zM39 294v3h1v-3zM40 292v2h1v-2zM41 290v2h1v-2zM42 287v3h1v-3zM43 285v2h1v-2zM44 282v3h1v-3zM45 280v2h1v-2zM46 278v2h1v-2zM47 275v3h1v-3zM48 273v2h1v-2zM49 270v3h1v-3zM50 268v2h1v-2zM51 266v2h1v-2zM52 263v3h1v-3zM53 261v2h1v-2zM54 258v3h1v-3zM55 256v2h1v-2zM56 254v2h1v-2zM57 251v3h1v-3zM58 249v2h1v-2zM59 246v3h1v-3zM60 243v3h1v-3zM61 241v2h1v-2zM62 238v3h1v-3zM63 235v3h1v-3zM64 233v2h1v-2zM65 230v3h1v-3zM66 227v3h1v-3zM67 224v3h1v-3zM68 222v2h1v-2zM69 219v3h1v-3zM70 216v3h1v-3zM71 214v2h1v-2zM72 211v3h1v-3zM73 208v3h1v-3zM74 205v3h1v-3zM75 203v2h1v-2zM76 200v3h1v-3zM77 197v3h1v-3zM78 194v3h1v-3zM79 192v2h1v-2zM80 189v3h1v-3zM81 186v3h1v-3zM82 184v2h1v-2zM83 181v3h1v-3zM84 178v3h1v-3zM85 175v3h1v-3zM86 173v2h1v-2zM87 170v3h1v-3zM88 167v3h1v-3zM89 165v2h1v-2zM90 162v3h1v-3zM91 159v3h1v-3zM92 157v2h1v-2zM93 155v2h1v-2zM94 153v2h1v-2zM95 151v2h1v-2zM96 149v2h1v-2zM97 147v2h1v-2zM98 145v2h1v-2zM99 142v3h1v-3zM100 140v2h1v-2zM101 138v2h1v-2zM102 136v2h1v-2zM103 134v2h1v-2zM104 132v2h1v-2zM105 130v2h1v-2zM106 128v2h1v-2zM107 125v3h1v-3zM108 123v2h1v-2zM109 121v2h1v-2zM110 119v2h1v-2zM111 117v2h1v-2zM112 115v2h1v-2zM113 113v2h1v-2zM114 111v2h1v-2zM115 108v3h1v-3zM116 106v2h1v-2zM117 104v2h1v-2zM118 102v2h1v-2zM119 100v2h1v-2zM120 98v2h1v-2zM121 96v2h1v-2zM122 94v2h1v-2zM123 92v2h1v-2zM124 90v2h1v-2zM125 89h1v1h-1zM126 88h1v1h-1zM127 86v2h1v-2zM128 85h1v1h-1zM129 84h1v1h-1zM130 82v2h1v-2zM131 81h1v1h-1zM132 79v2h1v-2zM133 78h1v1h-1zM134 77h1v1h-1zM135 75v2h1v-2zM136 74h1v1h-1zM137 73h1v1h-1zM138 71v2h1v-2zM139 70h1v1h-1zM140 68v2h1v-2zM141 67h1v1h-1zM142 66h1v1h-1zM143 64v2h1v-2zM144 63h1v1h-1zM145 62h1v1h-1zM146 60v2h1v-2zM147 59h1v1h-1zM148 57v2h1v-2zM149 56h1v1h-1zM150 55h1v1h-1zM151 53v2h1v-2zM152 52h1v1h-1zM153 51h1v1h-1zM154 49v2h1v-2zM155 48h1v1h-1zM156 47h1v1h-1zM157 46h1v1h-1zM158 45h1v1h-1zM159 44h1v1h-1zM160 43h1v1h-1zM161 42h1v1h-1zM162 41h1v1h-1z"/>
<path fill="#10106c" d="M563 41h1v1h-1zM564 42h2v1h-2zM566 43h1v1h-1zM567 44h1v1h-1zM568 45h2v1h-2zM570 46h1v1h-1zM571 47h4v1h-4zM575 48h6v1h-6zM581 49h7v1h-7zM588 50h6v1h-6zM594 51h6v1h-6zM600 52h5v1h-5zM605 51h3v1h-3zM608 50h4v1h-4zM612 49h3v1h-3zM615 48h3v1h-3zM618 47h3v1h-3zM621 46h3v1h-3zM624 45h4v1h-4zM628 44h3v1h-3zM631 43h3v1h-3zM634 42h2v1h-2zM636 41h1v1h-1z"/>
<path fill="#10106c" d="M777 41h2v1h-2zM779 42h1v1h-1zM780 43h2v1h-2zM782 44h2v1h-2zM784 45h1v1h-1zM785 46h2v1h-2zM787 47h1v1h-1zM788 48h2v1h-2zM790 49h2v1h-2zM792 50h1v1h-1zM793 51h2v1h-2zM795 52h1v1h-1zM796 53h2v1h-2zM798 54h2v1h-2zM800 55h2v1h-2zM802 56h2v1h-2zM804 57h1v1h-1zM805 58h2v1h-2zM807 59h2v1h-2zM809 60h2v1h-2zM811 61h1v1h-1zM812 62h2v1h-2zM814 63h2v1h-2zM816 64h2v1h-2zM818 65h2v1h-2zM820 66h1v1h-1zM821 67h2v1h-2zM823 68h2v1h-2zM825 69h2v1h-2zM827 70h1v1h-1zM828 71h2v1h-2zM830 72h1v1h-1zM831 73h2v1h-2zM833 74h1v1h-1zM834 75h2v1h-2zM836 76h1v1h-1zM837 77h2v1h-2zM839 78h1v1h-1zM840 79h2v1h-2zM842 80h2v1h-2zM844 81h1v1h-1zM845 82h2v1h-2zM847 83h1v1h-1zM848 84h2v1h-2zM850 85h1v1h-1zM851 86h2v1h-2zM853 87h1v1h-1zM854 88h2v1h-2zM856 89h1v1h-1zM857 90h2v1h-2zM859 91h2v1h-2zM861 92h2v1h-2zM863 93h2v1h-2zM865 94h2v1h-2zM867 95h2v1h-2zM869 96h2v1h-2zM871 97h2v1h-2zM873 98h2v1h-2zM875 99h2v1h-2zM877 100h2v1h-2zM879 101h2v1h-2zM881 102h2v1h-2zM883 103h2v1h-2zM885 104h2v1h-2zM887 105h2v1h-2zM889 106h2v1h-2zM891 107h1v1h-1zM892 108h2v1h-2zM894 109h1v1h-1zM895 110h1v1h-1zM896 111h2v1h-2zM898 112h1v1h-1zM899 113h1v1h-1zM900 114h2v1h-2zM902 115h1v1h-1zM903 116h1v1h-1zM904 117h2v1h-2zM906 118h1v1h-1zM907 119h1v1h-1zM908 120h2v1h-2zM910 121h1v1h-1zM911 122h1v1h-1zM912 123h2v1h-2zM914 124h1v1h-1zM915 125h1v1h-1zM916 126h2v1h-2zM918 127h1v1h-1zM919 128h1v1h-1zM920 129h2v1h-2zM922 130h1v1h-1zM923 131h1v1h-1zM924 132h2v1h-2zM926 133h1v1h-1zM927 134h1v1h-1zM928 135h2v1h-2zM930 136h1v1h-1zM931 137h1v1h-1zM932 138h2v1h-2zM934 139h1v1h-1zM935 140h1v1h-1zM936 141h2v1h-2zM938 142h1v1h-1zM939 143h1v1h-1zM940 144h2v1h-2zM942 145h1v1h-1zM943 146h1v1h-1zM944 147h2v1h-2zM946 148h1v1h-1zM947 149h1v1h-1zM948 150h2v1h-2zM950 151h1v1h-1zM951 152h1v1h-1zM952 153h2v1h-2zM954 154h1v1h-1zM955 155h1v1h-1zM956 156h2v1h-2zM958 157h2v1h-2zM960 158h2v1h-2zM962 159h2v1h-2zM964 160h2v1h-2zM966 161h2v1h-2zM968 162h2v1h-2zM970 163h2v1h-2zM972 164h1v1h-1zM973 165h2v1h-2zM975 166h2v1h-2zM977 167h2v1h-2zM979 168h2v1h-2zM981 169h2v1h-2zM983 170h2v1h-2zM985 171h2v1h-2zM987 172h3v1h-3zM990 173h6v1h-6zM996 174h5v1h-5zM1001 175h5v1h-5zM1006 176h6v1h-6zM1012 177h5v1h-5zM1017 178h5v1h-5zM1022 179h5v1h-5zM1027 180h5v1h-5zM1032 181h6v1h-6zM1038 182h5v1h-5zM1043 183h5v1h-5zM1048 184h3v1h-3z"/>
<path fill="#10106c" d="M0 710h2v1h-2zM2 709h1v1h-1zM3 708h2v1h-2zM5 707h1v1h-1zM6 706h1v1h-1zM7 705h2v1h-2zM9 704h1v1h-1zM10 703h2v1h-2zM12 702h1v1h-1zM13 701h1v1h-1zM14 700h2v1h-2zM16 699h1v1h-1zM17 698h1v1h-1zM18 697h2v1h-2zM20 696h1v1h-1zM21 695h2v1h-2zM23 694h1v1h-1zM24 693h1v1h-1zM25 692h2v1h-2zM27 691h1v1h-1zM28 690h1v1h-1zM29 689h1v1h-1zM30 688h1v1h-1zM31 687h1v1h-1zM32 686h1v1h-1zM33 685h1v1h-1zM34 684h1v1h-1zM35 683h1v1h-1zM36 682h1v1h-1zM37 681h1v1h-1zM38 680h1v1h-1zM39 679h1v1h-1zM40 678h1v1h-1zM41 677h1v1h-1zM42 676h2v1h-2zM44 675h1v1h-1zM45 674h1v1h-1zM46 673h1v1h-1zM47 672h1v1h-1zM48 671h1v1h-1zM49 670h1v1h-1zM50 669h1v1h-1zM51 668h1v1h-1zM52 667h1v1h-1zM53 666h1v1h-1zM54 665h1v1h-1zM55 664h1v1h-1zM56 663h1v1h-1zM57 662h1v1h-1zM58 661h1v1h-1zM59 660h1v1h-1zM60 659h1v1h-1zM61 658h1v1h-1zM62 656v2h1v-2zM63 655h1v1h-1zM64 654h1v1h-1zM65 653h1v1h-1zM66 652h1v1h-1zM67 651h1v1h-1zM68 650h1v1h-1zM69 648v2h1v-2zM70 647h1v1h-1zM71 646h1v1h-1zM72 645h1v1h-1zM73 644h1v1h-1zM74 643h1v1h-1zM75 641v2h1v-2zM76 640h1v1h-1zM77 639h1v1h-1zM78 638h1v1h-1zM79 637h1v1h-1zM80 636h1v1h-1zM81 634v2h1v-2zM82 633h1v1h-1zM83 632h1v1h-1zM84 631h1v1h-1zM85 630h1v1h-1zM86 629h1v1h-1zM87 628h1v1h-1zM88 626v2h1v-2zM89 625h1v1h-1zM90 624h1v1h-1zM91 623h1v1h-1zM92 622h1v1h-1zM93 621h1v1h-1zM94 619v2h1v-2zM95 618h1v1h-1zM96 617h1v1h-1zM97 616h1v1h-1zM98 615h1v1h-1zM99 614h1v1h-1zM100 613h1v1h-1zM101 611v2h1v-2zM102 610h1v1h-1zM103 609h1v1h-1zM104 608h1v1h-1zM105 607h1v1h-1zM106 606h1v1h-1zM107 604v2h1v-2zM108 603h1v1h-1zM109 602h1v1h-1zM110 601h1v1h-1zM111 600h1v1h-1zM112 599h1v1h-1zM113 597v2h1v-2zM114 596h1v1h-1zM115 595h1v1h-1zM116 594h1v1h-1zM117 593h1v1h-1zM118 592h1v1h-1zM119 591h1v1h-1zM120 589v2h1v-2zM121 588h1v1h-1zM122 587h1v1h-1zM123 586h1v1h-1zM124 585h1v1h-1zM125 584h1v1h-1zM126 582v2h1v-2zM127 581h1v1h-1zM128 580h1v1h-1zM129 579h1v1h-1zM130 578h1v1h-1zM131 576v2h1v-2zM132 575h1v1h-1zM133 574h1v1h-1zM134 573h1v1h-1zM135 572h1v1h-1zM136 570v2h1v-2zM137 569h1v1h-1zM138 568h1v1h-1zM139 567h1v1h-1zM140 566h1v1h-1zM141 565h1v1h-1zM142 563v2h1v-2zM143 562h1v1h-1zM144 561h1v1h-1zM145 560h1v1h-1zM146 559h1v1h-1zM147 557v2h1v-2zM148 556h1v1h-1zM149 555h1v1h-1zM150 554h1v1h-1zM151 553h1v1h-1zM152 551v2h1v-2zM153 550h1v1h-1zM154 549h1v1h-1zM155 548h1v1h-1zM156 547h1v1h-1zM157 546h1v1h-1zM158 544v2h1v-2zM159 543h1v1h-1zM160 542h1v1h-1zM161 541h1v1h-1zM162 540h1v1h-1zM163 539h1v1h-1zM164 538h1v1h-1zM165 536v2h1v-2zM166 535h1v1h-1zM167 534h1v1h-1zM168 533h1v1h-1zM169 532h1v1h-1zM170 531h1v1h-1zM171 529v2h1v-2zM172 528h1v1h-1zM173 527h1v1h-1zM174 526h1v1h-1zM175 525h1v1h-1zM176 524h1v1h-1zM177 522v2h1v-2zM178 521h1v1h-1zM179 520h1v1h-1zM180 519h1v1h-1zM181 518h1v1h-1zM182 517h1v1h-1zM183 516h1v1h-1zM184 514v2h1v-2zM185 513h1v1h-1zM186 512h1v1h-1zM187 511h1v1h-1zM188 510h1v1h-1zM189 509h1v1h-1zM190 508h1v1h-1zM191 507h1v1h-1zM192 506h1v1h-1zM193 505h1v1h-1zM194 504h1v1h-1zM195 502v2h1v-2zM196 501h1v1h-1zM197 500h1v1h-1zM198 499h1v1h-1zM199 498h1v1h-1zM200 497h1v1h-1zM201 496h1v1h-1zM202 495h1v1h-1zM203 494h1v1h-1zM204 493h1v1h-1zM205 492h1v1h-1zM206 491h1v1h-1zM207 490h1v1h-1zM208 489h1v1h-1zM209 488h1v1h-1zM210 487h1v1h-1zM211 485v2h1v-2zM212 484h1v1h-1zM213 483h1v1h-1zM214 482h1v1h-1zM215 481h1v1h-1zM216 480h1v1h-1zM217 479h1v1h-1zM218 478h1v1h-1zM219 477h1v1h-1zM220 476h2v1h-2zM222 475h2v1h-2zM224 474h1v1h-1zM225 473h2v1h-2zM227 472h2v1h-2zM229 471h1v1h-1zM230 470h2v1h-2zM232 469h2v1h-2zM234 468h2v1h-2zM236 467h1v1h-1zM237 466h2v1h-2zM239 465h2v1h-2zM241 464h1v1h-1zM242 463h2v1h-2zM244 462h2v1h-2zM246 461h1v1h-1zM247 460h2v1h-2zM249 459h2v1h-2zM251 458h1v1h-1zM252 457h1v1h-1zM253 456h1v1h-1zM254 455h2v1h-2zM256 454h1v1h-1zM257 453h1v1h-1zM258 452h1v1h-1zM259 451h1v1h-1zM260 450h2v1h-2zM262 449h1v1h-1zM263 448h1v1h-1zM264 447h1v1h-1zM265 446h1v1h-1zM266 445h2v1h-2zM268 444h1v1h-1zM269 443h1v1h-1zM270 442h1v1h-1zM271 441h1v1h-1zM272 440h1v1h-1zM273 439h2v1h-2zM275 438h1v1h-1zM276 437h1v1h-1zM277 436h1v1h-1zM278 435h1v1h-1zM279 434h2v1h-2zM281 433h1v1h-1zM282 432h1v1h-1zM283 431h1v1h-1zM284 430h2v1h-2zM286 429h1v1h-1zM287 428h1v1h-1zM288 427h2v1h-2zM290 426h1v1h-1zM291 425h1v1h-1zM292 424h2v1h-2zM294 423h1v1h-1zM295 422h1v1h-1zM296 421h2v1h-2zM298 420h1v1h-1zM299 419h1v1h-1zM300 418h2v1h-2zM302 417h1v1h-1zM303 416h1v1h-1zM304 415h2v1h-2zM306 414h1v1h-1zM307 413h1v1h-1zM308 412h2v1h-2zM310 411h1v1h-1zM311 410h1v1h-1zM312 409h2v1h-2zM314 408h1v1h-1zM315 407h1v1h-1zM316 406h2v1h-2zM318 405h1v1h-1zM319 404h2v1h-2zM321 403h1v1h-1zM322 402h2v1h-2zM324 401h1v1h-1zM325 400h2v1h-2zM327 399h1v1h-1zM328 398h2v1h-2zM330 397h2v1h-2zM332 396h1v1h-1zM333 395h2v1h-2zM335 394h1v1h-1zM336 393h2v1h-2zM338 392h1v1h-1zM339 391h2v1h-2zM341 390h1v1h-1zM342 389h2v1h-2zM344 388h1v1h-1zM345 387h2v1h-2zM347 386h1v1h-1zM348 385h2v1h-2zM350 384h2v1h-2zM352 383h1v1h-1zM353 382h2v1h-2zM355 381h1v1h-1zM356 380h2v1h-2zM358 379h2v1h-2zM360 378h1v1h-1zM361 377h2v1h-2zM363 376h1v1h-1zM364 375h2v1h-2zM366 374h2v1h-2zM368 373h1v1h-1zM369 372h2v1h-2zM371 371h1v1h-1zM372 370h2v1h-2zM374 369h2v1h-2zM376 368h1v1h-1zM377 367h2v1h-2zM379 366h1v1h-1zM380 365h1v1h-1zM381 364h2v1h-2zM383 363h1v1h-1zM384 362h1v1h-1zM385 361h1v1h-1zM386 360h2v1h-2zM388 359h1v1h-1zM389 358h1v1h-1zM390 357h1v1h-1zM391 356h1v1h-1zM392 355h2v1h-2zM394 354h1v1h-1zM395 353h1v1h-1zM396 352h1v1h-1zM397 351h2v1h-2zM399 350h1v1h-1zM400 349h1v1h-1zM401 348h1v1h-1zM402 347h2v1h-2zM404 346h1v1h-1zM405 345h1v1h-1zM406 344h1v1h-1zM407 343h1v1h-1zM408 342h2v1h-2zM410 341h1v1h-1zM411 340h1v1h-1zM412 339h1v1h-1zM413 338h1v1h-1zM414 337h2v1h-2zM416 336h1v1h-1zM417 335h1v1h-1zM418 334h1v1h-1zM419 333h1v1h-1zM420 332h1v1h-1zM421 331h1v1h-1zM422 330h2v1h-2zM424 329h1v1h-1zM425 328h1v1h-1zM426 327h1v1h-1zM427 326h1v1h-1zM428 325h1v1h-1zM429 324h1v1h-1zM430 323h2v1h-2zM432 322h1v1h-1zM433 321h1v1h-1zM434 320h1v1h-1zM435 319h1v1h-1zM436 318h1v1h-1zM437 317h1v1h-1zM438 316h2v1h-2zM440 315h1v1h-1zM441 314h1v1h-1zM442 313h1v1h-1zM443 312h1v1h-1zM444 311h2v1h-2zM446 310h2v1h-2zM448 309h1v1h-1zM449 308h2v1h-2zM451 307h2v1h-2zM453 306h1v1h-1zM454 305h2v1h-2zM456 304h2v1h-2zM458 303h2v1h-2zM460 302h1v1h-1zM461 301h2v1h-2zM463 300h2v1h-2zM465 299h1v1h-1zM466 298h2v1h-2zM468 297h2v1h-2zM470 296h1v1h-1zM471 295h2v1h-2zM473 294h2v1h-2zM475 293h2v1h-2zM477 292h2v1h-2zM479 291h2v1h-2zM481 290h3v1h-3zM484 289h2v1h-2zM486 288h2v1h-2zM488 287h2v1h-2zM490 286h3v1h-3zM493 285h2v1h-2zM495 284h2v1h-2zM497 283h3v1h-3zM500 282h2v1h-2zM502 281h2v1h-2zM504 280h2v1h-2zM506 279h3v1h-3zM509 278h2v1h-2zM511 277h2v1h-2zM513 276h2v1h-2zM515 275h2v1h-2zM517 274h2v1h-2zM519 273h2v1h-2zM521 272h3v1h-3zM524 271h2v1h-2zM526 270h2v1h-2zM528 269h2v1h-2zM530 268h2v1h-2zM532 267h2v1h-2zM534 266h2v1h-2zM536 265h2v1h-2zM538 264h3v1h-3zM541 263h3v1h-3zM544 262h2v1h-2zM546 261h3v1h-3zM549 260h3v1h-3zM552 259h2v1h-2zM554 258h3v1h-3zM557 257h3v1h-3zM560 256h2v1h-2zM562 255h3v1h-3zM565 254h3v1h-3zM568 253h2v1h-2zM570 252h10v1h-10zM580 251h16v1h-16zM596 250h12v1h-12zM608 251h8v1h-8zM616 252h8v1h-8zM624 253h8v1h-8zM632 254h6v1h-6zM638 255h4v1h-4zM642 256h4v1h-4zM646 257h4v1h-4zM650 258h4v1h-4zM654 259h4v1h-4zM658 260h4v1h-4zM662 261h4v1h-4zM666 262h3v1h-3zM669 263h3v1h-3zM672 264h4v1h-4zM676 265h3v1h-3zM679 266h3v1h-3zM682 267h3v1h-3zM685 268h3v1h-3zM688 269h4v1h-4zM692 270h3v1h-3zM695 271h3v1h-3zM698 272h3v1h-3zM701 273h3v1h-3zM704 274h2v1h-2zM706 275h3v1h-3zM709 276h3v1h-3zM712 277h2v1h-2zM714 278h3v1h-3zM717 279h3v1h-3zM720 280h2v1h-2zM722 281h3v1h-3zM725 282h3v1h-3zM728 283h2v1h-2zM730 284h3v1h-3zM733 285h2v1h-2zM735 286h2v1h-2zM737 287h2v1h-2zM739 288h2v1h-2zM741 289h2v1h-2zM743 290h2v1h-2zM745 291h2v1h-2zM747 292h2v1h-2zM749 293h2v1h-2zM751 294h2v1h-2zM753 295h2v1h-2zM755 296h2v1h-2zM757 297h2v1h-2zM759 298h2v1h-2zM761 299h2v1h-2zM763 300h1v1h-1zM764 301h2v1h-2zM766 302h2v1h-2zM768 303h2v1h-2zM770 304h2v1h-2zM772 305h1v1h-1zM773 306h2v1h-2zM775 307h2v1h-2zM777 308h2v1h-2zM779 309h1v1h-1zM780 310h2v1h-2zM782 311h2v1h-2zM784 312h2v1h-2zM786 313h2v1h-2zM788 314h1v1h-1zM789 315h2v1h-2zM791 316h2v1h-2zM793 317h2v1h-2zM795 318h1v1h-1zM796 319h2v1h-2zM798 320h2v1h-2zM800 321h2v1h-2zM802 322h2v1h-2zM804 323h2v1h-2zM806 324h2v1h-2zM808 325h2v1h-2zM810 326h2v1h-2zM812 327h1v1h-1zM813 328h2v1h-2zM815 329h2v1h-2zM817 330h2v1h-2zM819 331h2v1h-2zM821 332h2v1h-2zM823 333h2v1h-2zM825 334h2v1h-2zM827 335h2v1h-2zM829 336h2v1h-2zM831 337h3v1h-3zM834 338h2v1h-2zM836 339h3v1h-3zM839 340h2v1h-2zM841 341h3v1h-3zM844 342h2v1h-2zM846 343h2v1h-2zM848 344h3v1h-3zM851 345h2v1h-2zM853 346h3v1h-3zM856 347h2v1h-2zM858 348h4v1h-4zM862 349h6v1h-6zM868 350h5v1h-5zM873 351h5v1h-5zM878 352h6v1h-6zM884 353h5v1h-5zM889 354h4v1h-4zM893 355h4v1h-4zM897 356h3v1h-3zM900 357h4v1h-4zM904 358h4v1h-4zM908 359h3v1h-3zM911 360h4v1h-4zM915 361h3v1h-3zM918 362h4v1h-4zM922 363h4v1h-4zM926 364h4v1h-4zM930 365h4v1h-4zM934 366h4v1h-4zM938 367h4v1h-4zM942 368h4v1h-4zM946 369h4v1h-4zM950 370h4v1h-4zM954 371h4v1h-4zM958 372h6v1h-6zM964 373h5v1h-5zM969 374h5v1h-5zM974 375h6v1h-6zM980 376h5v1h-5zM985 377h6v1h-6zM991 378h6v1h-6zM997 379h7v1h-7zM1004 380h6v1h-6zM1010 381h6v1h-6zM1016 382h6v1h-6zM1022 383h5v1h-5zM1027 384h5v1h-5zM1032 385h6v1h-6zM1038 386h5v1h-5zM1043 387h5v1h-5zM1048 388h3v1h-3z"/>
<path fill="#10106c" d="M358 829h1v1h-1zM359 827v2h1v-2zM360 826h1v1h-1zM361 824v2h1v-2zM362 823h1v1h-1zM363 821v2h1v-2zM364 820h1v1h-1zM365 818v2h1v-2zM366 817h1v1h-1zM367 815v2h1v-2zM368 814h1v1h-1zM369 812v2h1v-2zM370 811h1v1h-1zM371 810h1v1h-1zM372 808v2h1v-2zM373 807h1v1h-1zM374 805v2h1v-2zM375 804h1v1h-1zM376 802v2h1v-2zM377 801h1v1h-1zM378 799v2h1v-2zM379 797v2h1v-2zM380 795v2h1v-2zM381 793v2h1v-2zM382 791v2h1v-2zM383 789v2h1v-2zM384 786v3h1v-3zM385 784v2h1v-2zM386 782v2h1v-2zM387 780v2h1v-2zM388 778v2h1v-2zM389 776v2h1v-2zM390 773v3h1v-3zM391 771v2h1v-2zM392 769v2h1v-2zM393 767v2h1v-2zM394 765v2h1v-2zM395 762v3h1v-3zM396 760v2h1v-2zM397 758v2h1v-2zM398 756v2h1v-2zM399 754v2h1v-2zM400 751v3h1v-3zM401 749v2h1v-2zM402 747v2h1v-2zM403 745v2h1v-2zM404 743v2h1v-2zM405 741v2h1v-2zM406 738v3h1v-3zM407 736v2h1v-2zM408 734v2h1v-2zM409 732v2h1v-2zM410 730v2h1v-2zM411 728v2h1v-2zM412 726v2h1v-2zM413 724v2h1v-2zM414 722v2h1v-2zM415 720v2h1v-2zM416 719h1v1h-1zM417 717v2h1v-2zM418 715v2h1v-2zM419 713v2h1v-2zM420 711v2h1v-2zM421 709v2h1v-2zM422 708h1v1h-1zM423 706v2h1v-2zM424 704v2h1v-2zM425 702v2h1v-2zM426 700v2h1v-2zM427 699h1v1h-1zM428 697v2h1v-2zM429 695v2h1v-2zM430 693v2h1v-2zM431 691v2h1v-2zM432 690h1v1h-1zM433 688v2h1v-2zM434 686v2h1v-2zM435 684v2h1v-2zM436 682v2h1v-2zM437 680v2h1v-2zM438 679h1v1h-1zM439 677v2h1v-2zM440 675v2h1v-2zM441 673v2h1v-2zM442 671v2h1v-2zM443 670h1v1h-1zM444 668v2h1v-2zM445 666v2h1v-2zM446 664v2h1v-2zM447 662v2h1v-2zM448 661h1v1h-1zM449 659v2h1v-2zM450 657v2h1v-2zM451 655v2h1v-2zM452 653v2h1v-2zM453 651v2h1v-2zM454 650h1v1h-1zM455 648v2h1v-2zM456 646v2h1v-2zM457 644v2h1v-2zM458 642v2h1v-2zM459 641h1v1h-1zM460 639v2h1v-2zM461 637v2h1v-2zM462 635v2h1v-2zM463 633v2h1v-2zM464 632h1v1h-1zM465 630v2h1v-2zM466 628v2h1v-2zM467 626v2h1v-2zM468 624v2h1v-2zM469 622v2h1v-2zM470 621h1v1h-1zM471 619v2h1v-2zM472 617v2h1v-2zM473 615v2h1v-2zM474 613v2h1v-2zM475 612h1v1h-1zM476 610v2h1v-2zM477 609h1v1h-1zM478 607v2h1v-2zM479 606h1v1h-1zM480 604v2h1v-2zM481 603h1v1h-1zM482 601v2h1v-2zM483 600h1v1h-1zM484 598v2h1v-2zM485 597h1v1h-1zM486 595v2h1v-2zM487 594h1v1h-1zM488 592v2h1v-2zM489 591h1v1h-1zM490 589v2h1v-2zM491 588h1v1h-1zM492 586v2h1v-2zM493 585h1v1h-1zM494 583v2h1v-2zM495 582h1v1h-1zM496 580v2h1v-2zM497 579h1v1h-1zM498 577v2h1v-2zM499 576h1v1h-1zM500 574v2h1v-2zM501 573h1v1h-1zM502 571v2h1v-2zM503 570h1v1h-1zM504 568v2h1v-2zM505 567h1v1h-1zM506 565v2h1v-2zM507 563v2h1v-2zM508 561v2h1v-2zM509 559v2h1v-2zM510 557v2h1v-2zM511 555v2h1v-2zM512 553v2h1v-2zM513 551v2h1v-2zM514 549v2h1v-2zM515 547v2h1v-2zM516 545v2h1v-2zM517 543v2h1v-2zM518 541v2h1v-2zM519 539v2h1v-2zM520 537v2h1v-2zM521 535v2h1v-2zM522 533v2h1v-2zM523 530v3h1v-3zM524 528v2h1v-2zM525 526v2h1v-2zM526 524v2h1v-2zM527 522v2h1v-2zM528 520v2h1v-2zM529 518v2h1v-2zM530 516v2h1v-2zM531 514v2h1v-2zM532 512v2h1v-2zM533 510v2h1v-2zM534 508v2h1v-2zM535 506v2h1v-2zM536 504v2h1v-2zM537 502v2h1v-2zM538 500v2h1v-2zM539 498v2h1v-2zM540 497h1v1h-1zM541 496h1v1h-1zM542 494v2h1v-2zM543 493h1v1h-1zM544 492h1v1h-1zM545 491h1v1h-1zM546 490h1v1h-1zM547 488v2h1v-2zM548 487h1v1h-1zM549 486h1v1h-1zM550 485h1v1h-1zM551 484h1v1h-1zM552 482v2h1v-2zM553 481h1v1h-1zM554 480h1v1h-1zM555 479h1v1h-1zM556 478h1v1h-1zM557 477h1v1h-1zM558 475v2h1v-2zM559 474h1v1h-1zM560 473h1v1h-1zM561 472h1v1h-1zM562 471h1v1h-1zM563 469v2h1v-2zM564 468h1v1h-1zM565 467h1v1h-1zM566 466h1v1h-1zM567 465h1v1h-1zM568 463v2h1v-2zM569 462h1v1h-1zM570 461h1v1h-1zM571 460h2v1h-2zM573 459h3v1h-3zM576 458h4v1h-4zM580 457h3v1h-3zM583 456h3v1h-3zM586 455h3v1h-3zM589 454h3v1h-3zM592 453h4v1h-4zM596 452h3v1h-3zM599 451h3v1h-3zM602 450h3v1h-3zM605 451h2v1h-2zM607 452h2v1h-2zM609 453h2v1h-2zM611 454h2v1h-2zM613 455h2v1h-2zM615 456h2v1h-2zM617 457h2v1h-2zM619 458h2v1h-2zM621 459h2v1h-2zM623 460h2v1h-2zM625 461h2v1h-2zM627 462h2v1h-2zM629 463h2v1h-2zM631 464h2v1h-2zM633 465h2v1h-2zM635 466h1v1h-1zM636 467h1v1h-1zM637 468h1v1h-1zM638 469h1v1h-1zM639 470h1v1h-1zM640 471h1v1h-1zM641 472h1v1h-1zM642 473h1v1h-1zM643 474v2h1v-2zM644 476h1v1h-1zM645 477h1v1h-1zM646 478h1v1h-1zM647 479h1v1h-1zM648 480h1v1h-1zM649 481h1v1h-1zM650 482h1v1h-1zM651 483h1v1h-1zM652 484h1v1h-1zM653 485h1v1h-1zM654 486h1v1h-1zM655 487h1v1h-1zM656 488h1v1h-1zM657 489h1v1h-1zM658 490h1v1h-1zM659 491v2h1v-2zM660 493h1v1h-1zM661 494h1v1h-1zM662 495h1v1h-1zM663 496h1v1h-1zM664 497h1v1h-1zM665 498h1v1h-1zM666 499h1v1h-1zM667 500h1v1h-1zM668 501h1v1h-1zM669 502h1v1h-1zM670 503h1v1h-1zM671 504h1v1h-1zM672 505h1v1h-1zM673 506h1v1h-1zM674 507h1v1h-1zM675 508v2h1v-2zM676 510h1v1h-1zM677 511h1v1h-1zM678 512h1v1h-1zM679 513h1v1h-1zM680 514h1v1h-1zM681 515h1v1h-1zM682 516h1v1h-1zM683 517h1v1h-1zM684 518h1v1h-1zM685 519h1v1h-1zM686 520h1v1h-1zM687 521h1v1h-1zM688 522h1v1h-1zM689 523h1v1h-1zM690 524h1v1h-1zM691 525v2h1v-2zM692 527h1v1h-1zM693 528h1v1h-1zM694 529h1v1h-1zM695 530h1v1h-1zM696 531h1v1h-1zM697 532h1v1h-1zM698 533h1v1h-1zM699 534h1v1h-1zM700 535h2v1h-2zM702 536h1v1h-1zM703 537h1v1h-1zM704 538h2v1h-2zM706 539h1v1h-1zM707 540h2v1h-2zM709 541h1v1h-1zM710 542h1v1h-1zM711 543h2v1h-2zM713 544h1v1h-1zM714 545h2v1h-2zM716 546h1v1h-1zM717 547h1v1h-1zM718 548h2v1h-2zM720 549h1v1h-1zM721 550h1v1h-1zM722 551h2v1h-2zM724 552h1v1h-1zM725 553h2v1h-2zM727 554h1v1h-1zM728 555h1v1h-1zM729 556h2v1h-2zM731 557h2v1h-2zM733 558h2v1h-2zM735 559h2v1h-2zM737 560h2v1h-2zM739 561h2v1h-2zM741 562h2v1h-2zM743 563h2v1h-2zM745 564h3v1h-3zM748 565h2v1h-2zM750 566h2v1h-2zM752 567h2v1h-2zM754 568h2v1h-2zM756 569h2v1h-2zM758 570h2v1h-2zM760 571h2v1h-2zM762 572h3v1h-3zM765 573h2v1h-2zM767 574h2v1h-2zM769 575h3v1h-3zM772 576h2v1h-2zM774 577h2v1h-2zM776 578h2v1h-2zM778 579h3v1h-3zM781 580h2v1h-2zM783 581h2v1h-2zM785 582h3v1h-3zM788 583h2v1h-2zM790 584h2v1h-2zM792 585h2v1h-2zM794 586h3v1h-3zM797 587h2v1h-2zM799 588h2v1h-2zM801 589h2v1h-2zM803 590h2v1h-2zM805 591h2v1h-2zM807 592h2v1h-2zM809 593h2v1h-2zM811 594h2v1h-2zM813 595h2v1h-2zM815 596h2v1h-2zM817 597h2v1h-2zM819 598h2v1h-2zM821 599h2v1h-2zM823 600h2v1h-2zM825 601h2v1h-2zM827 602h9v1h-9zM836 603h16v1h-16zM852 604h13v1h-13zM865 603h11v1h-11zM876 602h10v1h-10zM886 601h8v1h-8zM894 600h4v1h-4zM898 599h5v1h-5zM903 598h5v1h-5zM908 597h4v1h-4zM912 596h5v1h-5zM917 595h4v1h-4zM921 594h5v1h-5zM926 593h6v1h-6zM932 592h5v1h-5zM937 591h5v1h-5zM942 590h6v1h-6zM948 589h5v1h-5zM953 588h6v1h-6zM959 587h6v1h-6zM965 586h7v1h-7zM972 585h6v1h-6zM978 584h6v1h-6zM984 583h7v1h-7zM991 584h6v1h-6zM997 585h7v1h-7zM1004 586h6v1h-6zM1010 587h6v1h-6zM1016 588h11v1h-11zM1027 589h16v1h-16zM1043 590h8v1h-8z"/>
<path fill="#800000" d="M0 423v2h1v-2zM1 421v2h1v-2zM2 419v2h1v-2zM3 417v2h1v-2zM4 415v2h1v-2zM5 413v2h1v-2zM6 411v2h1v-2zM7 409v2h1v-2zM8 407v2h1v-2zM9 405v2h1v-2zM10 403v2h1v-2zM11 400v3h1v-3zM12 398v2h1v-2zM13 396v2h1v-2zM14 394v2h1v-2zM15 392v2h1v-2zM16 390v2h1v-2zM17 388v2h1v-2zM18 386v2h1v-2zM19 384v2h1v-2zM20 382v2h1v-2zM21 380v2h1v-2zM22 378v2h1v-2zM23 376v2h1v-2zM24 374v2h1v-2zM25 372v2h1v-2zM26 370v2h1v-2zM27 367v3h1v-3zM28 365v2h1v-2zM29 363v2h1v-2zM30 361v2h1v-2zM31 359v2h1v-2zM32 356v3h1v-3zM33 354v2h1v-2zM34 352v2h1v-2zM35 350v2h1v-2zM36 348v2h1v-2zM37 346v2h1v-2zM38 343v3h1v-3zM39 341v2h1v-2zM40 339v2h1v-2zM41 337v2h1v-2zM42 335v2h1v-2zM43 332v3h1v-3zM44 330v2h1v-2zM45 328v2h1v-2zM46 326v2h1v-2zM47 324v2h1v-2zM48 321v3h1v-3zM49 319v2h1v-2zM50 317v2h1v-2zM51 315v2h1v-2zM52 313v2h1v-2zM53 311v2h1v-2zM54 308v3h1v-3zM55 306v2h1v-2zM56 304v2h1v-2zM57 302v2h1v-2zM58 300v2h1v-2zM59 297v3h1v-3zM60 295v2h1v-2zM61 292v3h1v-3zM62 290v2h1v-2zM63 287v3h1v-3zM64 284v3h1v-3zM65 282v2h1v-2zM66 279v3h1v-3zM67 277v2h1v-2zM68 274v3h1v-3zM69 272v2h1v-2zM70 269v3h1v-3zM71 266v3h1v-3zM72 264v2h1v-2zM73 261v3h1v-3zM74 259v2h1v-2zM75 256v3h1v-3zM76 254v2h1v-2zM77 251v3h1v-3zM78 249v2h1v-2zM79 246v3h1v-3zM80 243v3h1v-3zM81 241v2h1v-2zM82 238v3h1v-3zM83 236v2h1v-2zM84 233v3h1v-3zM85 231v2h1v-2zM86 228v3h1v-3zM87 225v3h1v-3zM88 223v2h1v-2zM89 220v3h1v-3zM90 218v2h1v-2zM91 215v3h1v-3zM92 213v2h1v-2zM93 211v2h1v-2zM94 209v2h1v-2zM95 207v2h1v-2zM96 205v2h1v-2zM97 203v2h1v-2zM98 201v2h1v-2zM99 199v2h1v-2zM100 197v2h1v-2zM101 195v2h1v-2zM102 192v3h1v-3zM103 190v2h1v-2zM104 188v2h1v-2zM105 186v2h1v-2zM106 184v2h1v-2zM107 182v2h1v-2zM108 180v2h1v-2zM109 178v2h1v-2zM110 176v2h1v-2zM111 174v2h1v-2zM112 171v3h1v-3zM113 169v2h1v-2zM114 167v2h1v-2zM115 165v2h1v-2zM116 163v2h1v-2zM117 161v2h1v-2zM118 159v2h1v-2zM119 157v2h1v-2zM120 155v2h1v-2zM121 153v2h1v-2zM122 151v2h1v-2zM123 149v2h1v-2zM124 147v2h1v-2zM125 145v2h1v-2zM126 143v2h1v-2zM127 141v2h1v-2zM128 140h1v1h-1zM129 138v2h1v-2zM130 136v2h1v-2zM131 134v2h1v-2zM132 133h1v1h-1zM133 131v2h1v-2zM134 129v2h1v-2zM135 127v2h1v-2zM136 125v2h1v-2zM137 124h1v1h-1zM138 122v2h1v-2zM139 120v2h1v-2zM140 118v2h1v-2zM141 117h1v1h-1zM142 115v2h1v-2zM143 113v2h1v-2zM144 111v2h1v-2zM145 109v2h1v-2zM146 108h1v1h-1zM147 106v2h1v-2zM148 104v2h1v-2zM149 102v2h1v-2zM150 101h1v1h-1zM151 99v2h1v-2zM152 97v2h1v-2zM153 95v2h1v-2zM154 93v2h1v-2zM155 92h1v1h-1zM156 90v2h1v-2zM157 89h1v1h-1zM158 88h1v1h-1zM159 86v2h1v-2zM160 85h1v1h-1zM161 84h1v1h-1zM162 82v2h1v-2zM163 81h1v1h-1zM164 79v2h1v-2zM165 78h1v1h-1zM166 77h1v1h-1zM167 75v2h1v-2zM168 74h1v1h-1zM169 73h1v1h-1zM170 71v2h1v-2zM171 70h1v1h-1zM172 68v2h1v-2zM173 67h1v1h-1zM174 66h1v1h-1zM175 64v2h1v-2zM176 63h1v1h-1zM177 62h1v1h-1zM178 60v2h1v-2zM179 59h1v1h-1zM180 57v2h1v-2zM181 56h1v1h-1zM182 55h1v1h-1zM183 53v2h1v-2zM184 52h1v1h-1zM185 51h1v1h-1zM186 49v2h1v-2zM187 48h1v1h-1zM188 47h1v1h-1zM189 46h1v1h-1zM190 44v2h1v-2zM191 43h1v1h-1zM192 42h1v1h-1zM193 41h1v1h-1z"/>
<path fill="#800000" d="M901 41h1v1h-1zM902 42h2v1h-2zM904 43h1v1h-1zM905 44h1v1h-1zM906 45h2v1h-2zM908 46h1v1h-1zM909 47h1v1h-1zM910 48h1v1h-1zM911 49h2v1h-2zM913 50h1v1h-1zM914 51h1v1h-1zM915 52h1v1h-1zM916 53h2v1h-2zM918 54h1v1h-1zM919 55h1v1h-1zM920 56h2v1h-2zM922 57h1v1h-1zM923 58h1v1h-1zM924 59h2v1h-2zM926 60h1v1h-1zM927 61h2v1h-2zM929 62h1v1h-1zM930 63h2v1h-2zM932 64h1v1h-1zM933 65h2v1h-2zM935 66h1v1h-1zM936 67h2v1h-2zM938 68h2v1h-2zM940 69h1v1h-1zM941 70h2v1h-2zM943 71h1v1h-1zM944 72h2v1h-2zM946 73h1v1h-1zM947 74h2v1h-2zM949 75h1v1h-1zM950 76h2v1h-2zM952 77h1v1h-1zM953 78h2v1h-2zM955 79h1v1h-1zM956 80h2v1h-2zM958 81h2v1h-2zM960 82h1v1h-1zM961 83h2v1h-2zM963 84h1v1h-1zM964 85h2v1h-2zM966 86h2v1h-2zM968 87h1v1h-1zM969 88h2v1h-2zM971 89h1v1h-1zM972 90h2v1h-2zM974 91h2v1h-2zM976 92h1v1h-1zM977 93h2v1h-2zM979 94h1v1h-1zM980 95h2v1h-2zM982 96h2v1h-2zM984 97h1v1h-1zM985 98h2v1h-2zM987 99h1v1h-1zM988 100h2v1h-2zM990 101h2v1h-2zM992 102h2v1h-2zM994 103h2v1h-2zM996 104h2v1h-2zM998 105h2v1h-2zM1000 106h2v1h-2zM1002 107h2v1h-2zM1004 108h1v1h-1zM1005 109h2v1h-2zM1007 110h2v1h-2zM1009 111h2v1h-2zM1011 112h2v1h-2zM1013 113h2v1h-2zM1015 114h2v1h-2zM1017 115h2v1h-2zM1019 116h1v1h-1zM1020 117h2v1h-2zM1022 118h2v1h-2zM1024 119h2v1h-2zM1026 120h2v1h-2zM1028 121h2v1h-2zM1030 122h2v1h-2zM1032 123h2v1h-2zM1034 124h2v1h-2zM1036 125h2v1h-2zM1038 126h2v1h-2zM1040 127h2v1h-2zM1042 128h2v1h-2zM1044 129h2v1h-2zM1046 130h2v1h-2zM1048 131h2v1h-2zM1050 132h1v1h-1z"/>
<path fill="#800000" d="M0 713h2v1h-2zM2 712h2v1h-2zM4 711h2v1h-2zM6 710h2v1h-2zM8 709h2v1h-2zM10 708h2v1h-2zM12 707h1v1h-1zM13 706h2v1h-2zM15 705h2v1h-2zM17 704h2v1h-2zM19 703h2v1h-2zM21 702h2v1h-2zM23 701h2v1h-2zM25 700h2v1h-2zM27 699h1v1h-1zM28 698h2v1h-2zM30 697h2v1h-2zM32 696h1v1h-1zM33 695h2v1h-2zM35 694h2v1h-2zM37 693h1v1h-1zM38 692h2v1h-2zM40 691h2v1h-2zM42 690h2v1h-2zM44 689h1v1h-1zM45 688h2v1h-2zM47 687h2v1h-2zM49 686h1v1h-1zM50 685h2v1h-2zM52 684h2v1h-2zM54 683h1v1h-1zM55 682h2v1h-2zM57 681h2v1h-2zM59 680h1v1h-1zM60 679h2v1h-2zM62 678h1v1h-1zM63 677h1v1h-1zM64 676h2v1h-2zM66 675h1v1h-1zM67 674h2v1h-2zM69 673h1v1h-1zM70 672h1v1h-1zM71 671h2v1h-2zM73 670h1v1h-1zM74 669h2v1h-2zM76 668h1v1h-1zM77 667h1v1h-1zM78 666h2v1h-2zM80 665h1v1h-1zM81 664h1v1h-1zM82 663h2v1h-2zM84 662h1v1h-1zM85 661h2v1h-2zM87 660h1v1h-1zM88 659h1v1h-1zM89 658h2v1h-2zM91 657h1v1h-1zM92 656h2v1h-2zM94 655h1v1h-1zM95 654h1v1h-1zM96 653h2v1h-2zM98 652h1v1h-1zM99 651h1v1h-1zM100 650h2v1h-2zM102 649h1v1h-1zM103 648h1v1h-1zM104 647h2v1h-2zM106 646h1v1h-1zM107 645h1v1h-1zM108 644h2v1h-2zM110 643h1v1h-1zM111 642h1v1h-1zM112 641h2v1h-2zM114 640h1v1h-1zM115 639h1v1h-1zM116 638h2v1h-2zM118 637h1v1h-1zM119 636h1v1h-1zM120 635h2v1h-2zM122 634h1v1h-1zM123 633h1v1h-1zM124 632h2v1h-2zM126 631h1v1h-1zM127 630h1v1h-1zM128 629h2v1h-2zM130 628h1v1h-1zM131 627h2v1h-2zM133 626h1v1h-1zM134 625h1v1h-1zM135 624h2v1h-2zM137 623h1v1h-1zM138 622h2v1h-2zM140 621h1v1h-1zM141 620h1v1h-1zM142 619h2v1h-2zM144 618h1v1h-1zM145 617h1v1h-1zM146 616h2v1h-2zM148 615h1v1h-1zM149 614h2v1h-2zM151 613h1v1h-1zM152 612h1v1h-1zM153 611h2v1h-2zM155 610h1v1h-1zM156 609h2v1h-2zM158 608h1v1h-1zM159 607h1v1h-1zM160 606h2v1h-2zM162 605h1v1h-1zM163 604h1v1h-1zM164 603h2v1h-2zM166 602h1v1h-1zM167 601h1v1h-1zM168 600h2v1h-2zM170 599h1v1h-1zM171 598h1v1h-1zM172 597h2v1h-2zM174 596h1v1h-1zM175 595h1v1h-1zM176 594h2v1h-2zM178 593h1v1h-1zM179 592h1v1h-1zM180 591h2v1h-2zM182 590h1v1h-1zM183 589h1v1h-1zM184 588h2v1h-2zM186 587h1v1h-1zM187 586h1v1h-1zM188 585h2v1h-2zM190 584h1v1h-1zM191 583h1v1h-1zM192 582h2v1h-2zM194 581h1v1h-1zM195 580h1v1h-1zM196 579h2v1h-2zM198 578h1v1h-1zM199 577h1v1h-1zM200 576h2v1h-2zM202 575h1v1h-1zM203 574h1v1h-1zM204 573h2v1h-2zM206 572h1v1h-1zM207 571h1v1h-1zM208 570h2v1h-2zM210 569h1v1h-1zM211 568h1v1h-1zM212 567h2v1h-2zM214 566h1v1h-1zM215 565h1v1h-1zM216 564h2v1h-2zM218 563h1v1h-1zM219 562h1v1h-1zM220 561h1v1h-1zM221 560h1v1h-1zM222 559h2v1h-2zM224 558h1v1h-1zM225 557h1v1h-1zM226 556h1v1h-1zM227 555h1v1h-1zM228 554h1v1h-1zM229 553h1v1h-1zM230 552h2v1h-2zM232 551h1v1h-1zM233 550h1v1h-1zM234 549h1v1h-1zM235 548h1v1h-1zM236 547h1v1h-1zM237 546h1v1h-1zM238 545h2v1h-2zM240 544h1v1h-1zM241 543h1v1h-1zM242 542h1v1h-1zM243 541h1v1h-1zM244 540h1v1h-1zM245 539h1v1h-1zM246 538h2v1h-2zM248 537h1v1h-1zM249 536h1v1h-1zM250 535h1v1h-1zM251 534h1v1h-1zM252 533h1v1h-1zM253 532h1v1h-1zM254 531h2v1h-2zM256 530h1v1h-1zM257 529h1v1h-1zM258 528h1v1h-1zM259 527h1v1h-1zM260 526h1v1h-1zM261 525h1v1h-1zM262 524h2v1h-2zM264 523h1v1h-1zM265 522h1v1h-1zM266 521h1v1h-1zM267 520h1v1h-1zM268 519h1v1h-1zM269 518h1v1h-1zM270 517h2v1h-2zM272 516h1v1h-1zM273 515h1v1h-1zM274 514h1v1h-1zM275 513h1v1h-1zM276 512h1v1h-1zM277 511h1v1h-1zM278 510h2v1h-2zM280 509h1v1h-1zM281 508h1v1h-1zM282 507h1v1h-1zM283 506h1v1h-1zM284 505h1v1h-1zM285 504h1v1h-1zM286 503h2v1h-2zM288 502h1v1h-1zM289 501h1v1h-1zM290 500h1v1h-1zM291 499h1v1h-1zM292 498h2v1h-2zM294 497h1v1h-1zM295 496h1v1h-1zM296 495h1v1h-1zM297 494h1v1h-1zM298 493h2v1h-2zM300 492h1v1h-1zM301 491h1v1h-1zM302 490h1v1h-1zM303 489h1v1h-1zM304 488h1v1h-1zM305 487h2v1h-2zM307 486h1v1h-1zM308 485h1v1h-1zM309 484h1v1h-1zM310 483h1v1h-1zM311 482h2v1h-2zM313 481h1v1h-1zM314 480h1v1h-1zM315 479h1v1h-1zM316 478h2v1h-2zM318 477h1v1h-1zM319 476h1v1h-1zM320 475h2v1h-2zM322 474h1v1h-1zM323 473h1v1h-1zM324 472h2v1h-2zM326 471h1v1h-1zM327 470h1v1h-1zM328 469h2v1h-2zM330 468h1v1h-1zM331 467h1v1h-1zM332 466h2v1h-2zM334 465h1v1h-1zM335 464h1v1h-1zM336 463h2v1h-2zM338 462h1v1h-1zM339 461h1v1h-1zM340 460h2v1h-2zM342 459h1v1h-1zM343 458h1v1h-1zM344 457h2v1h-2zM346 456h1v1h-1zM347 455h1v1h-1zM348 454h2v1h-2zM350 453h1v1h-1zM351 452h1v1h-1zM352 451h2v1h-2zM354 450h1v1h-1zM355 449h2v1h-2zM357 448h1v1h-1zM358 447h1v1h-1zM359 446h2v1h-2zM361 445h1v1h-1zM362 444h2v1h-2zM364 443h1v1h-1zM365 442h1v1h-1zM366 441h2v1h-2zM368 440h1v1h-1zM369 439h1v1h-1zM370 438h2v1h-2zM372 437h1v1h-1zM373 436h2v1h-2zM375 435h1v1h-1zM376 434h1v1h-1zM377 433h2v1h-2zM379 432h2v1h-2zM381 431h2v1h-2zM383 430h2v1h-2zM385 429h3v1h-3zM388 428h2v1h-2zM390 427h2v1h-2zM392 426h2v1h-2zM394 425h3v1h-3zM397 424h2v1h-2zM399 423h2v1h-2zM401 422h3v1h-3zM404 421h2v1h-2zM406 420h2v1h-2zM408 419h2v1h-2zM410 418h2v1h-2zM412 417h2v1h-2zM414 416h1v1h-1zM415 415h2v1h-2zM417 414h1v1h-1zM418 413h2v1h-2zM420 412h1v1h-1zM421 411h1v1h-1zM422 410h2v1h-2zM424 409h1v1h-1zM425 408h2v1h-2zM427 407h1v1h-1zM428 406h2v1h-2zM430 405h1v1h-1zM431 404h2v1h-2zM433 403h1v1h-1zM434 402h2v1h-2zM436 401h1v1h-1zM437 400h1v1h-1zM438 399h2v1h-2zM440 398h1v1h-1zM441 397h2v1h-2zM443 396h1v1h-1zM444 395h2v1h-2zM446 394h2v1h-2zM448 393h1v1h-1zM449 392h2v1h-2zM451 391h2v1h-2zM453 390h1v1h-1zM454 389h2v1h-2zM456 388h2v1h-2zM458 387h2v1h-2zM460 386h1v1h-1zM461 385h2v1h-2zM463 384h2v1h-2zM465 383h1v1h-1zM466 382h2v1h-2zM468 381h2v1h-2zM470 380h1v1h-1zM471 379h2v1h-2zM473 378h2v1h-2zM475 377h1v1h-1zM476 376h2v1h-2zM478 375h2v1h-2zM480 374h2v1h-2zM482 373h2v1h-2zM484 372h2v1h-2zM486 371h2v1h-2zM488 370h2v1h-2zM490 369h2v1h-2zM492 368h1v1h-1zM493 367h2v1h-2zM495 366h2v1h-2zM497 365h2v1h-2zM499 364h2v1h-2zM501 363h2v1h-2zM503 362h2v1h-2zM505 361h2v1h-2zM507 360h1v1h-1zM508 359h2v1h-2zM510 358h2v1h-2zM512 357h2v1h-2zM514 356h2v1h-2zM516 355h1v1h-1zM517 354h2v1h-2zM519 353h2v1h-2zM521 352h2v1h-2zM523 351h1v1h-1zM524 350h2v1h-2zM526 349h2v1h-2zM528 348h2v1h-2zM530 347h2v1h-2zM532 346h1v1h-1zM533 345h2v1h-2zM535 344h2v1h-2zM537 343h2v1h-2zM539 342h1v1h-1zM540 341h2v1h-2zM542 340h2v1h-2zM544 339h2v1h-2zM546 338h2v1h-2zM548 337h2v1h-2zM550 336h2v1h-2zM552 335h2v1h-2zM554 334h2v1h-2zM556 333h1v1h-1zM557 332h2v1h-2zM559 331h2v1h-2zM561 330h2v1h-2zM563 329h2v1h-2zM565 328h2v1h-2zM567 327h2v1h-2zM569 326h2v1h-2zM571 325h2v1h-2zM573 324h3v1h-3zM576 323h4v1h-4zM580 322h3v1h-3zM583 321h3v1h-3zM586 320h3v1h-3zM589 319h3v1h-3zM592 318h4v1h-4zM596 317h3v1h-3zM599 316h3v1h-3zM602 315h5v1h-5zM607 314h6v1h-6zM613 313h7v1h-7zM620 312h6v1h-6zM626 311h6v1h-6zM632 310h8v1h-8zM640 309h8v1h-8zM648 308h8v1h-8zM656 307h8v1h-8zM664 306h9v1h-9zM673 305h11v1h-11zM684 304h10v1h-10zM694 303h11v1h-11zM705 302h11v1h-11zM716 301h10v1h-10zM726 300h14v1h-14zM740 299h16v1h-16zM756 298h16v1h-16zM772 299h16v1h-16zM788 300h12v1h-12zM800 301h8v1h-8zM808 302h8v1h-8zM816 303h8v1h-8zM824 304h6v1h-6zM830 305h6v1h-6zM836 306h5v1h-5zM841 307h5v1h-5zM846 308h6v1h-6zM852 309h5v1h-5zM857 310h6v1h-6zM863 311h6v1h-6zM869 312h7v1h-7zM876 313h6v1h-6zM882 314h6v1h-6zM888 315h5v1h-5zM893 316h4v1h-4zM897 317h3v1h-3zM900 318h4v1h-4zM904 319h4v1h-4zM908 320h3v1h-3zM911 321h4v1h-4zM915 322h3v1h-3zM918 323h4v1h-4zM922 324h3v1h-3zM925 325h3v1h-3zM928 326h4v1h-4zM932 327h3v1h-3zM935 328h3v1h-3zM938 329h3v1h-3zM941 330h3v1h-3zM944 331h4v1h-4zM948 332h3v1h-3zM951 333h3v1h-3zM954 334h4v1h-4zM958 335h4v1h-4zM962 336h4v1h-4zM966 337h4v1h-4zM970 338h4v1h-4zM974 339h4v1h-4zM978 340h4v1h-4zM982 341h4v1h-4zM986 342h4v1h-4zM990 343h4v1h-4zM994 344h4v1h-4zM998 345h4v1h-4zM1002 346h4v1h-4zM1006 347h4v1h-4zM1010 348h4v1h-4zM1014 349h4v1h-4zM1018 350h3v1h-3zM1021 351h4v1h-4zM1025 352h4v1h-4zM1029 353h4v1h-4zM1033 354h4v1h-4zM1037 355h4v1h-4zM1041 356h4v1h-4zM1045 357h4v1h-4zM1049 358h2v1h-2z"/>
<path fill="#800000" d="M474 828v2h1v-2zM475 827h1v1h-1zM476 826h1v1h-1zM477 824v2h1v-2zM478 823h1v1h-1zM479 822h1v1h-1zM480 820v2h1v-2zM481 819h1v1h-1zM482 818h1v1h-1zM483 817h1v1h-1zM484 815v2h1v-2zM485 814h1v1h-1zM486 813h1v1h-1zM487 811v2h1v-2zM488 810h1v1h-1zM489 809h1v1h-1zM490 808h1v1h-1zM491 806v2h1v-2zM492 805h1v1h-1zM493 804h1v1h-1zM494 803h1v1h-1zM495 801v2h1v-2zM496 800h1v1h-1zM497 799h1v1h-1zM498 797v2h1v-2zM499 796h1v1h-1zM500 795h1v1h-1zM501 794h1v1h-1zM502 792v2h1v-2zM503 791h1v1h-1zM504 790h1v1h-1zM505 788v2h1v-2zM506 787h1v1h-1zM507 786h1v1h-1zM508 784v2h1v-2zM509 783h1v1h-1zM510 782h1v1h-1zM511 780v2h1v-2zM512 779h1v1h-1zM513 778h1v1h-1zM514 776v2h1v-2zM515 775h1v1h-1zM516 773v2h1v-2zM517 772h1v1h-1zM518 771h1v1h-1zM519 769v2h1v-2zM520 768h1v1h-1zM521 767h1v1h-1zM522 765v2h1v-2zM523 764h1v1h-1zM524 762v2h1v-2zM525 761h1v1h-1zM526 760h1v1h-1zM527 758v2h1v-2zM528 757h1v1h-1zM529 756h1v1h-1zM530 754v2h1v-2zM531 753h1v1h-1zM532 751v2h1v-2zM533 750h1v1h-1zM534 749h1v1h-1zM535 747v2h1v-2zM536 746h1v1h-1zM537 745h1v1h-1zM538 743v2h1v-2zM539 742h1v1h-1zM540 740v2h1v-2zM541 738v2h1v-2zM542 736v2h1v-2zM543 734v2h1v-2zM544 733h1v1h-1zM545 731v2h1v-2zM546 729v2h1v-2zM547 727v2h1v-2zM548 726h1v1h-1zM549 724v2h1v-2zM550 722v2h1v-2zM551 720v2h1v-2zM552 718v2h1v-2zM553 717h1v1h-1zM554 715v2h1v-2zM555 713v2h1v-2zM556 711v2h1v-2zM557 710h1v1h-1zM558 708v2h1v-2zM559 706v2h1v-2zM560 704v2h1v-2zM561 702v2h1v-2zM562 701h1v1h-1zM563 699v2h1v-2zM564 697v2h1v-2zM565 695v2h1v-2zM566 694h1v1h-1zM567 692v2h1v-2zM568 690v2h1v-2zM569 688v2h1v-2zM570 686v2h1v-2zM571 685h1v1h-1zM572 684h1v1h-1zM573 682v2h1v-2zM574 681h1v1h-1zM575 680h1v1h-1zM576 678v2h1v-2zM577 677h1v1h-1zM578 676h1v1h-1zM579 675h1v1h-1zM580 673v2h1v-2zM581 672h1v1h-1zM582 671h1v1h-1zM583 669v2h1v-2zM584 668h1v1h-1zM585 667h1v1h-1zM586 666h1v1h-1zM587 664v2h1v-2zM588 663h1v1h-1zM589 662h1v1h-1zM590 661h1v1h-1zM591 659v2h1v-2zM592 658h1v1h-1zM593 657h1v1h-1zM594 655v2h1v-2zM595 654h1v1h-1zM596 653h1v1h-1zM597 652h1v1h-1zM598 650v2h1v-2zM599 649h1v1h-1zM600 648h1v1h-1zM601 646v2h1v-2zM602 645h1v1h-1zM603 644h1v1h-1zM604 643h1v1h-1zM605 642h1v1h-1zM606 641h1v1h-1zM607 640h1v1h-1zM608 639h1v1h-1zM609 638h1v1h-1zM610 637h1v1h-1zM611 636h1v1h-1zM612 635h1v1h-1zM613 634h1v1h-1zM614 633h1v1h-1zM615 632h1v1h-1zM616 631h1v1h-1zM617 630h1v1h-1zM618 629h1v1h-1zM619 628h1v1h-1zM620 627h1v1h-1zM621 626h1v1h-1zM622 625h1v1h-1zM623 624h1v1h-1zM624 623h1v1h-1zM625 622h1v1h-1zM626 621h1v1h-1zM627 620h1v1h-1zM628 619h1v1h-1zM629 618h1v1h-1zM630 617h1v1h-1zM631 616h1v1h-1zM632 615h1v1h-1zM633 614h1v1h-1zM634 613h1v1h-1zM635 612h2v1h-2zM637 611h3v1h-3zM640 610h2v1h-2zM642 609h3v1h-3zM645 608h3v1h-3zM648 607h2v1h-2zM650 606h3v1h-3zM653 605h3v1h-3zM656 604h2v1h-2zM658 603h3v1h-3zM661 602h3v1h-3zM664 601h2v1h-2zM666 600h2v1h-2zM668 599h2v1h-2zM670 598h1v1h-1zM671 597h1v1h-1zM672 596h2v1h-2zM674 595h1v1h-1zM675 594h2v1h-2zM677 593h1v1h-1zM678 592h1v1h-1zM679 591h2v1h-2zM681 590h1v1h-1zM682 589h2v1h-2zM684 588h1v1h-1zM685 587h1v1h-1zM686 586h2v1h-2zM688 585h1v1h-1zM689 584h1v1h-1zM690 583h2v1h-2zM692 582h1v1h-1zM693 581h2v1h-2zM695 580h1v1h-1zM696 579h1v1h-1zM697 578h2v1h-2zM699 577h3v1h-3zM702 576h4v1h-4zM706 575h5v1h-5zM711 574h5v1h-5zM716 573h4v1h-4zM720 572h5v1h-5zM725 571h4v1h-4zM729 570h5v1h-5zM734 569h4v1h-4zM738 568h5v1h-5zM743 567h5v1h-5zM748 566h4v1h-4zM752 565h5v1h-5zM757 564h4v1h-4zM761 563h5v1h-5zM766 564h4v1h-4zM770 565h4v1h-4zM774 566h4v1h-4zM778 567h4v1h-4zM782 568h4v1h-4zM786 569h4v1h-4zM790 570h4v1h-4zM794 571h3v1h-3zM797 572h3v1h-3zM800 573h3v1h-3zM803 574h3v1h-3zM806 575h3v1h-3zM809 576h3v1h-3zM812 577h2v1h-2zM814 578h3v1h-3zM817 579h3v1h-3zM820 580h3v1h-3zM823 581h3v1h-3zM826 582h4v1h-4zM830 583h4v1h-4zM834 584h4v1h-4zM838 585h4v1h-4zM842 586h4v1h-4zM846 587h4v1h-4zM850 588h4v1h-4zM854 589h4v1h-4zM858 590h10v1h-10zM868 591h16v1h-16zM884 592h12v1h-12zM896 591h8v1h-8zM904 590h8v1h-8zM912 589h8v1h-8zM920 588h9v1h-9zM929 587h11v1h-11zM940 586h10v1h-10zM950 585h10v1h-10zM960 584h8v1h-8zM968 583h8v1h-8zM976 582h8v1h-8zM984 581h20v1h-20zM1004 582h23v1h-23zM1027 583h16v1h-16zM1043 584h8v1h-8z"/>
</g>
<rect x="0" y="40" width="1497" height="1" fill="#000"/>
<rect x="1496" y="40" width="1" height="791" fill="#000"/>
<rect x="0" y="830" width="1497" height="1" fill="#000"/>
<rect x="1497" y="72" width="2" height="1" fill="#000"/>
<rect x="1497" y="121" width="2" height="1" fill="#000"/>
<rect x="1497" y="170" width="2" height="1" fill="#000"/>
<rect x="1497" y="219" width="2" height="1" fill="#000"/>
<rect x="1497" y="269" width="2" height="1" fill="#000"/>
<rect x="1497" y="318" width="2" height="1" fill="#000"/>
<rect x="1497" y="367" width="2" height="1" fill="#000"/>
<rect x="1497" y="417" width="2" height="1" fill="#000"/>
<rect x="1497" y="466" width="2" height="1" fill="#000"/>
<rect x="1497" y="515" width="2" height="1" fill="#000"/>
<rect x="1497" y="564" width="2" height="1" fill="#000"/>
<rect x="1497" y="614" width="2" height="1" fill="#000"/>
<rect x="1497" y="663" width="2" height="1" fill="#000"/>
<rect x="1497" y="712" width="2" height="1" fill="#000"/>
<rect x="1497" y="761" width="2" height="1" fill="#000"/>
<rect x="1497" y="811" width="2" height="1" fill="#000"/>
<rect x="27" y="831" width="1" height="3" fill="#000"/>
<rect x="123" y="831" width="1" height="3" fill="#000"/>
<rect x="219" y="831" width="1" height="3" fill="#000"/>
<rect x="315" y="831" width="1" height="3" fill="#000"/>
<rect x="411" y="831" width="1" height="3" fill="#000"/>
<rect x="507" y="831" width="1" height="3" fill="#000"/>
<rect x="603" y="831" width="1" height="3" fill="#000"/>
<rect x="699" y="831" width="1" height="3" fill="#000"/>
<rect x="795" y="831" width="1" height="3" fill="#000"/>
<rect x="891" y="831" width="1" height="3" fill="#000"/>
<rect x="987" y="831" width="1" height="3" fill="#000"/>
<rect x="0" y="854" width="1549" height="1" fill="#e3e3e3"/>
</g>
<text x="1503.3" y="76.5" fill="#000" stroke="#000" textLength="45.2" lengthAdjust="spacingAndGlyphs">1344.80</text>
<text x="1503.3" y="125.5" fill="#000" stroke="#000" textLength="45.2" lengthAdjust="spacingAndGlyphs">1342.85</text>
<text x="1503.3" y="174.5" fill="#000" stroke="#000" textLength="45.2" lengthAdjust="spacingAndGlyphs">1340.90</text>
<text x="1503.3" y="223.5" fill="#000" stroke="#000" textLength="45.2" lengthAdjust="spacingAndGlyphs">1338.95</text>
<text x="1503.3" y="273.5" fill="#000" stroke="#000" textLength="45.2" lengthAdjust="spacingAndGlyphs">1337.00</text>
<text x="1503.3" y="322.5" fill="#000" stroke="#000" textLength="45.2" lengthAdjust="spacingAndGlyphs">1335.05</text>
<text x="1503.3" y="371.5" fill="#000" stroke="#000" textLength="45.2" lengthAdjust="spacingAndGlyphs">1333.10</text>
<text x="1503.3" y="421.5" fill="#000" stroke="#000" textLength="45.2" lengthAdjust="spacingAndGlyphs">1331.15</text>
<text x="1503.3" y="470.5" fill="#000" stroke="#000" textLength="45.2" lengthAdjust="spacingAndGlyphs">1329.20</text>
<text x="1503.3" y="519.5" fill="#000" stroke="#000" textLength="45.2" lengthAdjust="spacingAndGlyphs">1327.25</text>
<text x="1503.3" y="568.5" fill="#000" stroke="#000" textLength="45.2" lengthAdjust="spacingAndGlyphs">1325.30</text>
<text x="1503.3" y="618.5" fill="#000" stroke="#000" textLength="45.2" lengthAdjust="spacingAndGlyphs">1323.35</text>
<text x="1503.3" y="667.5" fill="#000" stroke="#000" textLength="45.2" lengthAdjust="spacingAndGlyphs">1321.40</text>
<text x="1503.3" y="716.5" fill="#000" stroke="#000" textLength="45.2" lengthAdjust="spacingAndGlyphs">1319.45</text>
<text x="1503.3" y="765.5" fill="#000" stroke="#000" textLength="45.2" lengthAdjust="spacingAndGlyphs">1317.50</text>
<text x="1503.3" y="815.5" fill="#000" stroke="#000" textLength="45.2" lengthAdjust="spacingAndGlyphs">1315.55</text>
<rect x="1498" y="419" width="51" height="14" fill="#000" shape-rendering="crispEdges"/>
<text x="1503.3" y="430.5" fill="#fff" stroke="#fff" textLength="45.2" lengthAdjust="spacingAndGlyphs">1330.79</text>
<text x="-69.5" y="846" fill="#000" stroke="#000" textLength="72" lengthAdjust="spacingAndGlyphs">12 Jan 12:00</text>
<text x="26.2" y="846" fill="#000" stroke="#000" textLength="72" lengthAdjust="spacingAndGlyphs">13 Jan 00:00</text>
<text x="122.2" y="846" fill="#000" stroke="#000" textLength="72" lengthAdjust="spacingAndGlyphs">15 Jan 14:00</text>
<text x="218.2" y="846" fill="#000" stroke="#000" textLength="72" lengthAdjust="spacingAndGlyphs">16 Jan 00:00</text>
<text x="314.2" y="846" fill="#000" stroke="#000" textLength="72" lengthAdjust="spacingAndGlyphs">16 Jan 12:00</text>
<text x="410.2" y="846" fill="#000" stroke="#000" textLength="72" lengthAdjust="spacingAndGlyphs">17 Jan 00:00</text>
<text x="506.2" y="846" fill="#000" stroke="#000" textLength="72" lengthAdjust="spacingAndGlyphs">17 Jan 12:00</text>
<text x="602.2" y="846" fill="#000" stroke="#000" textLength="72" lengthAdjust="spacingAndGlyphs">18 Jan 00:00</text>
<text x="698.2" y="846" fill="#000" stroke="#000" textLength="72" lengthAdjust="spacingAndGlyphs">18 Jan 12:00</text>
<text x="794.2" y="846" fill="#000" stroke="#000" textLength="72" lengthAdjust="spacingAndGlyphs">19 Jan 00:00</text>
<text x="890.2" y="846" fill="#000" stroke="#000" textLength="72" lengthAdjust="spacingAndGlyphs">19 Jan 12:00</text>
<text x="986.2" y="846" fill="#000" stroke="#000" textLength="72" lengthAdjust="spacingAndGlyphs">20 Jan 00:00</text>
</svg></body></html>
